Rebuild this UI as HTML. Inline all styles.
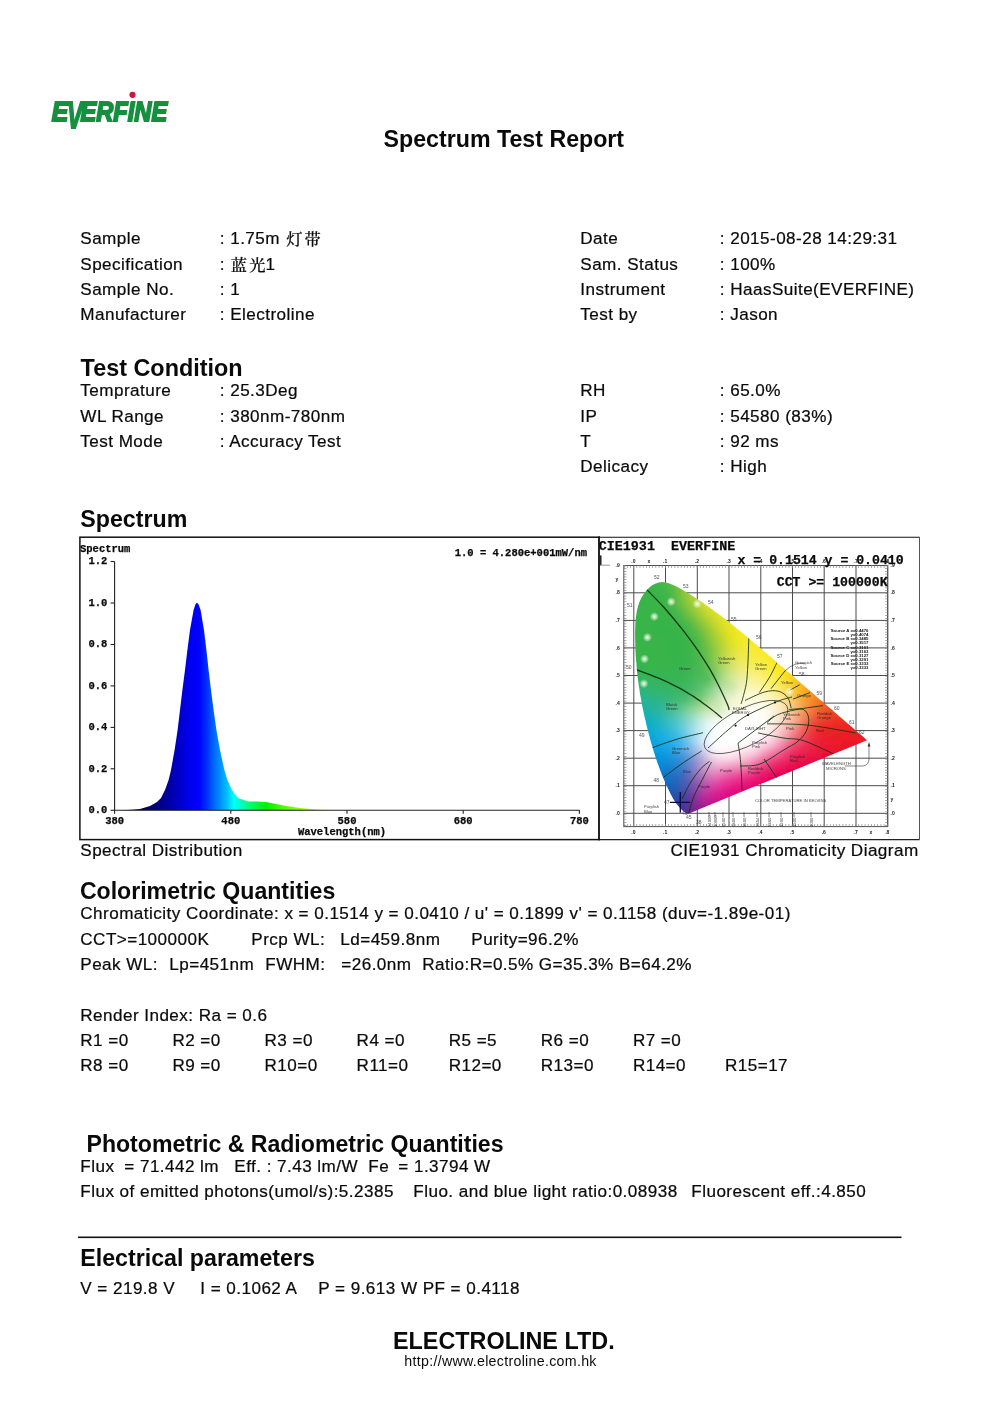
<!DOCTYPE html>
<html lang="en"><head><meta charset="utf-8"><title>Spectrum Test Report</title>
<style>
html,body{margin:0;padding:0;background:#fff}
body{width:1000px;height:1414px;overflow:hidden}
svg{display:block}
text{font-family:"Liberation Sans","Noto Sans CJK SC",sans-serif;fill:#0a0a0a;white-space:pre}
.r{font-size:17.1px;letter-spacing:0.45px;stroke:#0a0a0a;stroke-width:0.22px}
.h{font-size:23.2px;font-weight:bold;letter-spacing:0px}
.cj{font-family:"Noto Serif CJK SC","Noto Sans CJK SC",serif;font-size:16.2px;font-weight:500;letter-spacing:2.2px}
.u{font-size:14.2px;letter-spacing:0.3px}
.m{font-family:"Liberation Mono",monospace;font-weight:bold;font-size:10.5px;stroke:#0a0a0a;stroke-width:0.25px}
.c{font-family:"Liberation Mono",monospace;font-weight:bold;font-size:13.2px;stroke:#0a0a0a;stroke-width:0.25px}
.t{font-size:4.2px;fill:#222;fill-opacity:0.85}
.ta{font-size:5px;font-weight:bold;fill:#222}
.tw{font-size:5px;fill:#334;fill-opacity:0.85}
.ts{font-size:4.3px;font-weight:bold;fill:#111}
.lg{font-size:28px;font-weight:bold;font-style:italic;fill:#14903f;letter-spacing:0}
</style></head>
<body><svg width="1000" height="1414" viewBox="0 0 1000 1414" xml:space="preserve">
<text x="51.7" y="121.3" class="lg" textLength="16.5" lengthAdjust="spacingAndGlyphs" stroke="#14903f" stroke-width="1.9" stroke-linejoin="miter">E</text>
<text x="67" y="127.8" class="lg" style="font-size:36.7px" textLength="15.5" lengthAdjust="spacingAndGlyphs" stroke="#14903f" stroke-width="1.9" stroke-linejoin="miter">V</text>
<text x="80.5" y="121.3" class="lg" textLength="86.7" lengthAdjust="spacingAndGlyphs" stroke="#14903f" stroke-width="1.9" stroke-linejoin="miter">ERFINE</text>
<circle cx="132.5" cy="94.8" r="3.1" fill="#d4143c"/>
<text x="383.6" y="147" class="h">Spectrum Test Report</text>
<text x="80.3" y="244" class="r">Sample</text>
<text x="219.8" y="244" class="r">: 1.75m <tspan class="cj" dx="1.0" dy="0.9">灯带</tspan></text>
<text x="80.3" y="270" class="r">Specification</text>
<text x="219.8" y="270" class="r">: <tspan class="cj" dx="0.6" dy="0.9">蓝光</tspan><tspan dy="-0.9" dx="-2">1</tspan></text>
<text x="80.3" y="295" class="r">Sample No.</text>
<text x="219.8" y="295" class="r">: 1</text>
<text x="80.3" y="320" class="r">Manufacturer</text>
<text x="219.8" y="320" class="r">: Electroline</text>
<text x="580.3" y="244" class="r">Date</text>
<text x="719.8" y="244" class="r">: 2015-08-28 14:29:31</text>
<text x="580.3" y="270" class="r">Sam. Status</text>
<text x="719.8" y="270" class="r">: 100%</text>
<text x="580.3" y="295" class="r">Instrument</text>
<text x="719.8" y="295" class="r">: HaasSuite(EVERFINE)</text>
<text x="580.3" y="320" class="r">Test by</text>
<text x="719.8" y="320" class="r">: Jason</text>
<text x="80.6" y="376" class="h" style="font-size:23.4px">Test Condition</text>
<text x="80.3" y="396" class="r">Temprature</text>
<text x="219.8" y="396" class="r">: 25.3Deg</text>
<text x="80.3" y="422" class="r">WL Range</text>
<text x="219.8" y="422" class="r">: 380nm-780nm</text>
<text x="80.3" y="447" class="r">Test Mode</text>
<text x="219.8" y="447" class="r">: Accuracy Test</text>
<text x="580.3" y="396" class="r">RH</text>
<text x="719.8" y="396" class="r">: 65.0%</text>
<text x="580.3" y="422" class="r">IP</text>
<text x="719.8" y="422" class="r">: 54580 (83%)</text>
<text x="580.3" y="447" class="r">T</text>
<text x="719.8" y="447" class="r">: 92 ms</text>
<text x="580.3" y="472" class="r">Delicacy</text>
<text x="719.8" y="472" class="r">: High</text>
<text x="80.3" y="527" class="h">Spectrum</text>
<text x="80.3" y="856" class="r">Spectral Distribution</text>
<text x="918.6" y="856" class="r" text-anchor="end">CIE1931 Chromaticity Diagram</text>
<text x="79.9" y="899" class="h" style="font-size:23.1px">Colorimetric Quantities</text>
<text x="80.3" y="919" class="r">Chromaticity Coordinate: x = 0.1514 y = 0.0410 / u' = 0.1899 v' = 0.1158 (duv=-1.89e-01)</text>
<text x="80.3" y="945" class="r">CCT&gt;=100000K</text>
<text x="251.3" y="945" class="r">Prcp WL:</text>
<text x="340.3" y="945" class="r">Ld=459.8nm</text>
<text x="471.3" y="945" class="r">Purity=96.2%</text>
<text x="80.3" y="970" class="r">Peak WL:</text>
<text x="169.3" y="970" class="r">Lp=451nm</text>
<text x="265.3" y="970" class="r">FWHM:</text>
<text x="341.3" y="970" class="r">=26.0nm</text>
<text x="422.3" y="970" class="r">Ratio:R=0.5% G=35.3% B=64.2%</text>
<text x="80.3" y="1021" class="r">Render Index: Ra = 0.6</text>
<text x="80.3" y="1046" class="r">R1 =0</text>
<text x="172.4" y="1046" class="r">R2 =0</text>
<text x="264.5" y="1046" class="r">R3 =0</text>
<text x="356.6" y="1046" class="r">R4 =0</text>
<text x="448.7" y="1046" class="r">R5 =5</text>
<text x="540.8" y="1046" class="r">R6 =0</text>
<text x="632.9" y="1046" class="r">R7 =0</text>
<text x="80.3" y="1071" class="r">R8 =0</text>
<text x="172.4" y="1071" class="r">R9 =0</text>
<text x="264.5" y="1071" class="r">R10=0</text>
<text x="356.6" y="1071" class="r">R11=0</text>
<text x="448.7" y="1071" class="r">R12=0</text>
<text x="540.8" y="1071" class="r">R13=0</text>
<text x="632.9" y="1071" class="r">R14=0</text>
<text x="725.0" y="1071" class="r">R15=17</text>
<text x="86.5" y="1152" class="h" style="font-size:23.1px">Photometric &amp; Radiometric Quantities</text>
<text x="80.3" y="1172" class="r">Flux</text>
<text x="124.3" y="1172" class="r">= 71.442 lm</text>
<text x="234.3" y="1172" class="r">Eff. : 7.43 lm/W</text>
<text x="368.3" y="1172" class="r">Fe</text>
<text x="398.3" y="1172" class="r">= 1.3794 W</text>
<text x="80.3" y="1197" class="r">Flux of emitted photons(umol/s):5.2385</text>
<text x="413.3" y="1197" class="r">Fluo. and blue light ratio:0.08938</text>
<text x="691.3" y="1197" class="r">Fluorescent eff.:4.850</text>
<rect x="78" y="1236.5" width="823.5" height="1.6" fill="#111"/>
<text x="80.3" y="1266" class="h">Electrical parameters</text>
<text x="80.3" y="1294" class="r">V = 219.8 V</text>
<text x="200.3" y="1294" class="r">I = 0.1062 A</text>
<text x="318.3" y="1294" class="r">P = 9.613 W PF = 0.4118</text>
<text x="392.9" y="1349" class="h" style="font-size:23.4px">ELECTROLINE LTD.</text>
<text x="404.3" y="1366" class="u">http://www.electroline.com.hk</text>
<rect x="79.9" y="537.2" width="519.1" height="302.4" fill="#fff" stroke="#111" stroke-width="1.5"/>
<defs><linearGradient id="sg" gradientUnits="userSpaceOnUse" x1="120" y1="0" x2="330" y2="0">
<stop offset="0.0000" stop-color="#000020"/><stop offset="0.1429" stop-color="#000068"/><stop offset="0.2381" stop-color="#0000a8"/><stop offset="0.3333" stop-color="#0000f0"/><stop offset="0.3762" stop-color="#0000ff"/><stop offset="0.4143" stop-color="#0030ff"/><stop offset="0.4476" stop-color="#0068ff"/><stop offset="0.5048" stop-color="#00b8ff"/><stop offset="0.5429" stop-color="#00ffff"/><stop offset="0.5762" stop-color="#00ffc0"/><stop offset="0.6190" stop-color="#00ff70"/><stop offset="0.6952" stop-color="#00f000"/><stop offset="0.7857" stop-color="#50ff00"/><stop offset="0.8571" stop-color="#90ff00"/><stop offset="0.9333" stop-color="#d0ff00"/><stop offset="1.0000" stop-color="#ffff00"/></linearGradient></defs>
<path d="M120.0,810.3 L132.0,809.8 L140.0,809.0 L150.0,806.0 L157.0,802.0 L161.0,798.0 L165.0,790.0 L168.6,780.0 L171.0,770.0 L174.6,750.0 L177.6,730.0 L180.0,710.0 L182.4,690.0 L185.0,670.0 L187.4,650.0 L190.0,630.0 L193.6,610.0 L195.4,604.5 L197.0,602.6 L198.6,604.5 L200.6,610.0 L204.0,630.0 L206.4,650.0 L208.6,670.0 L211.0,690.0 L213.6,710.0 L216.4,730.0 L220.0,750.0 L224.4,770.0 L227.4,780.0 L232.0,790.0 L238.0,798.0 L248.0,801.5 L257.0,801.5 L266.0,802.0 L276.0,804.0 L286.0,806.0 L300.0,808.0 L316.0,809.6 L330.0,810.3 Z" fill="url(#sg)"/>
<path d="M114.6,561.5 V810.3 H579.6" fill="none" stroke="#222" stroke-width="1.1"/>
<path d="M110.6,810.3 H114.6" stroke="#222" stroke-width="1.1"/>
<text x="107.39999999999999" y="813.1" class="m" text-anchor="end">0.0</text>
<path d="M110.6,768.8 H114.6" stroke="#222" stroke-width="1.1"/>
<text x="107.39999999999999" y="771.6" class="m" text-anchor="end">0.2</text>
<path d="M110.6,727.4 H114.6" stroke="#222" stroke-width="1.1"/>
<text x="107.39999999999999" y="730.2" class="m" text-anchor="end">0.4</text>
<path d="M110.6,685.9 H114.6" stroke="#222" stroke-width="1.1"/>
<text x="107.39999999999999" y="688.7" class="m" text-anchor="end">0.6</text>
<path d="M110.6,644.5 H114.6" stroke="#222" stroke-width="1.1"/>
<text x="107.39999999999999" y="647.3" class="m" text-anchor="end">0.8</text>
<path d="M110.6,603.0 H114.6" stroke="#222" stroke-width="1.1"/>
<text x="107.39999999999999" y="605.8" class="m" text-anchor="end">1.0</text>
<path d="M110.6,561.5 H114.6" stroke="#222" stroke-width="1.1"/>
<text x="107.39999999999999" y="564.3" class="m" text-anchor="end">1.2</text>
<path d="M114.6,810.3 v3.5" stroke="#222" stroke-width="1.1"/>
<text x="114.6" y="823.5" class="m" text-anchor="middle">380</text>
<path d="M230.8,810.3 v3.5" stroke="#222" stroke-width="1.1"/>
<text x="230.8" y="823.5" class="m" text-anchor="middle">480</text>
<path d="M347.0,810.3 v3.5" stroke="#222" stroke-width="1.1"/>
<text x="347.0" y="823.5" class="m" text-anchor="middle">580</text>
<path d="M463.2,810.3 v3.5" stroke="#222" stroke-width="1.1"/>
<text x="463.2" y="823.5" class="m" text-anchor="middle">680</text>
<path d="M579.4,810.3 v3.5" stroke="#222" stroke-width="1.1"/>
<text x="579.4" y="823.5" class="m" text-anchor="middle">780</text>
<text x="80" y="552" class="m">Spectrum</text>
<text x="587" y="556" class="m" text-anchor="end">1.0 = 4.280e+001mW/nm</text>
<text x="342" y="834.5" class="m" text-anchor="middle">Wavelength(nm)</text>
<rect x="599.3" y="537" width="320.3" height="302.5" fill="#fff"/>
<defs><clipPath id="hs"><path d="M687.8,813.9 L684.5,812.1 L681.6,809.8 L679.1,807.1 L676.8,804.2 L674.7,801.2 L672.8,798.0 L671.0,794.8 L669.4,791.5 L667.7,788.1 L666.2,784.7 L664.7,781.3 L663.2,777.9 L661.8,774.4 L660.5,771.0 L659.2,767.5 L657.9,764.0 L656.7,760.4 L655.5,756.9 L654.4,753.4 L653.2,749.8 L652.2,746.3 L651.1,742.7 L650.1,739.1 L649.2,735.5 L648.2,731.9 L647.3,728.3 L646.4,724.7 L645.6,721.1 L644.7,717.5 L643.9,713.9 L643.2,710.3 L642.4,706.7 L641.7,703.1 L641.1,699.5 L640.4,695.8 L639.8,692.2 L639.3,688.5 L638.7,684.9 L638.2,681.2 L637.8,677.6 L637.3,673.9 L636.9,670.2 L636.6,666.5 L636.3,662.8 L636.0,659.1 L635.7,655.4 L635.5,651.6 L635.4,647.9 L635.3,644.1 L635.2,640.3 L635.1,636.6 L635.1,632.8 L635.2,629.0 L635.3,625.2 L635.5,621.4 L635.9,617.6 L636.4,613.9 L637.0,610.3 L637.9,606.7 L639.0,603.3 L640.3,599.9 L642.0,596.7 L643.9,593.7 L646.2,590.8 L648.8,588.0 L651.8,585.6 L655.1,583.7 L658.6,582.4 L662.2,582.1 L665.9,582.5 L669.6,583.5 L673.1,584.9 L676.6,586.5 L679.9,588.3 L683.1,590.2 L686.3,592.1 L689.5,594.0 L692.6,596.0 L695.8,598.0 L698.8,600.0 L701.9,602.1 L705.0,604.2 L708.0,606.3 L711.0,608.5 L714.0,610.7 L717.0,612.9 L720.0,615.1 L722.9,617.3 L725.8,619.6 L728.8,621.9 L731.7,624.2 L734.6,626.5 L737.4,628.9 L740.3,631.2 L743.2,633.6 L746.0,636.0 L748.9,638.4 L751.7,640.8 L754.6,643.2 L757.4,645.6 L760.2,648.0 L763.0,650.4 L765.9,652.8 L768.7,655.2 L771.5,657.6 L774.3,660.1 L777.1,662.5 L779.9,664.9 L782.8,667.3 L785.6,669.8 L788.4,672.2 L791.2,674.6 L794.0,677.0 L796.8,679.5 L799.6,681.9 L802.4,684.3 L805.2,686.8 L808.0,689.2 L810.8,691.6 L813.6,694.0 L816.4,696.5 L819.2,698.9 L822.1,701.3 L824.9,703.8 L827.7,706.2 L830.5,708.6 L833.3,711.0 L836.1,713.5 L838.9,715.9 L841.7,718.3 L844.5,720.8 L847.3,723.2 L850.1,725.6 L853.0,728.0 L855.8,730.5 L858.6,732.9 L861.4,735.3 L864.2,737.8 L867.0,740.2 Z"/></clipPath>
<filter id="vb" x="-5%" y="-5%" width="110%" height="110%"><feGaussianBlur stdDeviation="0 1.6"/></filter>
<linearGradient id="r0" gradientUnits="userSpaceOnUse" x1="652" x2="673" y1="0" y2="0"><stop offset="0.000" stop-color="#3fb747"/><stop offset="0.333" stop-color="#45b846"/><stop offset="0.667" stop-color="#53bb43"/><stop offset="1.000" stop-color="#65c03f"/></linearGradient>
<linearGradient id="r1" gradientUnits="userSpaceOnUse" x1="646" x2="682" y1="0" y2="0"><stop offset="0.000" stop-color="#3ab648"/><stop offset="0.250" stop-color="#3cb648"/><stop offset="0.500" stop-color="#49b846"/><stop offset="0.750" stop-color="#61be41"/><stop offset="1.000" stop-color="#81c63a"/></linearGradient>
<linearGradient id="r2" gradientUnits="userSpaceOnUse" x1="643" x2="689" y1="0" y2="0"><stop offset="0.000" stop-color="#38b549"/><stop offset="0.167" stop-color="#39b549"/><stop offset="0.333" stop-color="#3bb549"/><stop offset="0.500" stop-color="#48b847"/><stop offset="0.667" stop-color="#5cbd43"/><stop offset="0.833" stop-color="#7cc53d"/><stop offset="1.000" stop-color="#9bcd35"/></linearGradient>
<linearGradient id="r3" gradientUnits="userSpaceOnUse" x1="640" x2="695" y1="0" y2="0"><stop offset="0.000" stop-color="#37b54a"/><stop offset="0.143" stop-color="#38b44a"/><stop offset="0.286" stop-color="#38b44a"/><stop offset="0.429" stop-color="#3fb649"/><stop offset="0.571" stop-color="#50b946"/><stop offset="0.714" stop-color="#72c240"/><stop offset="0.857" stop-color="#94cb38"/><stop offset="1.000" stop-color="#b3d430"/></linearGradient>
<linearGradient id="r4" gradientUnits="userSpaceOnUse" x1="638" x2="701" y1="0" y2="0"><stop offset="0.000" stop-color="#36b44a"/><stop offset="0.125" stop-color="#37b44a"/><stop offset="0.250" stop-color="#37b44a"/><stop offset="0.375" stop-color="#3bb549"/><stop offset="0.500" stop-color="#46b748"/><stop offset="0.625" stop-color="#67be43"/><stop offset="0.750" stop-color="#8cc83c"/><stop offset="0.875" stop-color="#acd133"/><stop offset="1.000" stop-color="#cadb2b"/></linearGradient>
<linearGradient id="r5" gradientUnits="userSpaceOnUse" x1="636" x2="707" y1="0" y2="0"><stop offset="0.000" stop-color="#36b44a"/><stop offset="0.111" stop-color="#37b44a"/><stop offset="0.222" stop-color="#37b44a"/><stop offset="0.333" stop-color="#39b44a"/><stop offset="0.444" stop-color="#41b649"/><stop offset="0.556" stop-color="#5cbb45"/><stop offset="0.667" stop-color="#82c43f"/><stop offset="0.778" stop-color="#a2ce37"/><stop offset="0.889" stop-color="#c4d92e"/><stop offset="1.000" stop-color="#dde128"/></linearGradient>
<linearGradient id="r6" gradientUnits="userSpaceOnUse" x1="635" x2="713" y1="0" y2="0"><stop offset="0.000" stop-color="#35b44a"/><stop offset="0.100" stop-color="#36b44a"/><stop offset="0.200" stop-color="#37b44a"/><stop offset="0.300" stop-color="#38b44a"/><stop offset="0.400" stop-color="#3fb549"/><stop offset="0.500" stop-color="#54b947"/><stop offset="0.600" stop-color="#72c042"/><stop offset="0.700" stop-color="#94ca3b"/><stop offset="0.800" stop-color="#b8d432"/><stop offset="0.900" stop-color="#d6df2a"/><stop offset="1.000" stop-color="#e8e425"/></linearGradient>
<linearGradient id="r7" gradientUnits="userSpaceOnUse" x1="634" x2="718" y1="0" y2="0"><stop offset="0.000" stop-color="#36b44a"/><stop offset="0.100" stop-color="#37b44a"/><stop offset="0.200" stop-color="#37b44a"/><stop offset="0.300" stop-color="#38b44a"/><stop offset="0.400" stop-color="#3fb549"/><stop offset="0.500" stop-color="#54b946"/><stop offset="0.600" stop-color="#74c141"/><stop offset="0.700" stop-color="#98cb3a"/><stop offset="0.800" stop-color="#bfd730"/><stop offset="0.900" stop-color="#dce029"/><stop offset="1.000" stop-color="#eae525"/></linearGradient>
<linearGradient id="r8" gradientUnits="userSpaceOnUse" x1="634" x2="724" y1="0" y2="0"><stop offset="0.000" stop-color="#36b44a"/><stop offset="0.091" stop-color="#37b44a"/><stop offset="0.182" stop-color="#37b44a"/><stop offset="0.273" stop-color="#38b44a"/><stop offset="0.364" stop-color="#3bb449"/><stop offset="0.455" stop-color="#46b648"/><stop offset="0.545" stop-color="#64bd44"/><stop offset="0.636" stop-color="#88c63e"/><stop offset="0.727" stop-color="#acd035"/><stop offset="0.818" stop-color="#cbdb2c"/><stop offset="0.909" stop-color="#e0e227"/><stop offset="1.000" stop-color="#efe724"/></linearGradient>
<linearGradient id="r9" gradientUnits="userSpaceOnUse" x1="633" x2="729" y1="0" y2="0"><stop offset="0.000" stop-color="#36b44b"/><stop offset="0.083" stop-color="#37b44a"/><stop offset="0.167" stop-color="#37b44a"/><stop offset="0.250" stop-color="#37b44a"/><stop offset="0.333" stop-color="#39b44a"/><stop offset="0.417" stop-color="#3fb549"/><stop offset="0.500" stop-color="#51b946"/><stop offset="0.583" stop-color="#72c042"/><stop offset="0.667" stop-color="#96ca3a"/><stop offset="0.750" stop-color="#b8d431"/><stop offset="0.833" stop-color="#d2dd2a"/><stop offset="0.917" stop-color="#e5e426"/><stop offset="1.000" stop-color="#f2e822"/></linearGradient>
<linearGradient id="r10" gradientUnits="userSpaceOnUse" x1="633" x2="734" y1="0" y2="0"><stop offset="0.000" stop-color="#35b44b"/><stop offset="0.077" stop-color="#37b44a"/><stop offset="0.154" stop-color="#37b449"/><stop offset="0.231" stop-color="#37b449"/><stop offset="0.308" stop-color="#37b44a"/><stop offset="0.385" stop-color="#3ab449"/><stop offset="0.462" stop-color="#44b648"/><stop offset="0.538" stop-color="#5cbb45"/><stop offset="0.615" stop-color="#7ec33f"/><stop offset="0.692" stop-color="#9ecc38"/><stop offset="0.769" stop-color="#bed62f"/><stop offset="0.846" stop-color="#d8df29"/><stop offset="0.923" stop-color="#eae524"/><stop offset="1.000" stop-color="#f5e920"/></linearGradient>
<linearGradient id="r11" gradientUnits="userSpaceOnUse" x1="633" x2="739" y1="0" y2="0"><stop offset="0.000" stop-color="#35b44b"/><stop offset="0.077" stop-color="#37b44a"/><stop offset="0.154" stop-color="#37b449"/><stop offset="0.231" stop-color="#36b449"/><stop offset="0.308" stop-color="#36b44a"/><stop offset="0.385" stop-color="#39b449"/><stop offset="0.462" stop-color="#42b648"/><stop offset="0.538" stop-color="#5abb45"/><stop offset="0.615" stop-color="#7ec33f"/><stop offset="0.692" stop-color="#a2cd37"/><stop offset="0.769" stop-color="#c3d82e"/><stop offset="0.846" stop-color="#dce027"/><stop offset="0.923" stop-color="#ece622"/><stop offset="1.000" stop-color="#f7e91e"/></linearGradient>
<linearGradient id="r12" gradientUnits="userSpaceOnUse" x1="633" x2="744" y1="0" y2="0"><stop offset="0.000" stop-color="#35b44b"/><stop offset="0.071" stop-color="#36b44a"/><stop offset="0.143" stop-color="#37b449"/><stop offset="0.214" stop-color="#36b449"/><stop offset="0.286" stop-color="#36b44a"/><stop offset="0.357" stop-color="#37b44a"/><stop offset="0.429" stop-color="#3bb449"/><stop offset="0.500" stop-color="#48b748"/><stop offset="0.571" stop-color="#68be43"/><stop offset="0.643" stop-color="#8dc73d"/><stop offset="0.714" stop-color="#b1d233"/><stop offset="0.786" stop-color="#d0dc29"/><stop offset="0.857" stop-color="#e4e323"/><stop offset="0.929" stop-color="#f2e820"/><stop offset="1.000" stop-color="#f9ea1c"/></linearGradient>
<linearGradient id="r13" gradientUnits="userSpaceOnUse" x1="633" x2="749" y1="0" y2="0"><stop offset="0.000" stop-color="#35b44b"/><stop offset="0.071" stop-color="#37b449"/><stop offset="0.143" stop-color="#37b449"/><stop offset="0.214" stop-color="#36b449"/><stop offset="0.286" stop-color="#36b44a"/><stop offset="0.357" stop-color="#36b44a"/><stop offset="0.429" stop-color="#3ab449"/><stop offset="0.500" stop-color="#4bb847"/><stop offset="0.571" stop-color="#69be43"/><stop offset="0.643" stop-color="#90c83b"/><stop offset="0.714" stop-color="#b5d331"/><stop offset="0.786" stop-color="#d6de27"/><stop offset="0.857" stop-color="#e9e521"/><stop offset="0.929" stop-color="#f4e91f"/><stop offset="1.000" stop-color="#faea1d"/></linearGradient>
<linearGradient id="r14" gradientUnits="userSpaceOnUse" x1="633" x2="753" y1="0" y2="0"><stop offset="0.000" stop-color="#36b44b"/><stop offset="0.067" stop-color="#37b449"/><stop offset="0.133" stop-color="#37b449"/><stop offset="0.200" stop-color="#37b449"/><stop offset="0.267" stop-color="#36b449"/><stop offset="0.333" stop-color="#35b44a"/><stop offset="0.400" stop-color="#38b44a"/><stop offset="0.467" stop-color="#41b649"/><stop offset="0.533" stop-color="#56ba46"/><stop offset="0.600" stop-color="#7bc240"/><stop offset="0.667" stop-color="#a3cd37"/><stop offset="0.733" stop-color="#c5d82c"/><stop offset="0.800" stop-color="#dfe223"/><stop offset="0.867" stop-color="#efe721"/><stop offset="0.933" stop-color="#f7e921"/><stop offset="1.000" stop-color="#fae920"/></linearGradient>
<linearGradient id="r15" gradientUnits="userSpaceOnUse" x1="633" x2="758" y1="0" y2="0"><stop offset="0.000" stop-color="#36b44b"/><stop offset="0.062" stop-color="#38b449"/><stop offset="0.125" stop-color="#38b448"/><stop offset="0.188" stop-color="#37b449"/><stop offset="0.250" stop-color="#37b449"/><stop offset="0.312" stop-color="#35b449"/><stop offset="0.375" stop-color="#36b44a"/><stop offset="0.438" stop-color="#3cb549"/><stop offset="0.500" stop-color="#48b748"/><stop offset="0.562" stop-color="#69be44"/><stop offset="0.625" stop-color="#92c83c"/><stop offset="0.688" stop-color="#b2d233"/><stop offset="0.750" stop-color="#d3dd28"/><stop offset="0.812" stop-color="#e8e525"/><stop offset="0.875" stop-color="#f3e925"/><stop offset="0.938" stop-color="#f7ea26"/><stop offset="1.000" stop-color="#fae922"/></linearGradient>
<linearGradient id="r16" gradientUnits="userSpaceOnUse" x1="633" x2="763" y1="0" y2="0"><stop offset="0.000" stop-color="#36b44b"/><stop offset="0.062" stop-color="#38b449"/><stop offset="0.125" stop-color="#38b448"/><stop offset="0.188" stop-color="#38b448"/><stop offset="0.250" stop-color="#37b449"/><stop offset="0.312" stop-color="#35b449"/><stop offset="0.375" stop-color="#36b44a"/><stop offset="0.438" stop-color="#3cb54a"/><stop offset="0.500" stop-color="#4eb848"/><stop offset="0.562" stop-color="#72c043"/><stop offset="0.625" stop-color="#9acb3c"/><stop offset="0.688" stop-color="#bed633"/><stop offset="0.750" stop-color="#dbe02c"/><stop offset="0.812" stop-color="#ece72b"/><stop offset="0.875" stop-color="#f4ea2d"/><stop offset="0.938" stop-color="#f7ea2b"/><stop offset="1.000" stop-color="#fbe922"/></linearGradient>
<linearGradient id="r17" gradientUnits="userSpaceOnUse" x1="633" x2="767" y1="0" y2="0"><stop offset="0.000" stop-color="#36b44c"/><stop offset="0.059" stop-color="#38b449"/><stop offset="0.118" stop-color="#38b448"/><stop offset="0.176" stop-color="#38b448"/><stop offset="0.235" stop-color="#37b449"/><stop offset="0.294" stop-color="#35b449"/><stop offset="0.353" stop-color="#36b44a"/><stop offset="0.412" stop-color="#3bb44a"/><stop offset="0.471" stop-color="#48b749"/><stop offset="0.529" stop-color="#60bc47"/><stop offset="0.588" stop-color="#86c643"/><stop offset="0.647" stop-color="#acd13c"/><stop offset="0.706" stop-color="#cedc36"/><stop offset="0.765" stop-color="#e5e433"/><stop offset="0.824" stop-color="#f1e934"/><stop offset="0.882" stop-color="#f6ea33"/><stop offset="0.941" stop-color="#f9ea2b"/><stop offset="1.000" stop-color="#fbe821"/></linearGradient>
<linearGradient id="r18" gradientUnits="userSpaceOnUse" x1="633" x2="772" y1="0" y2="0"><stop offset="0.000" stop-color="#35b44c"/><stop offset="0.059" stop-color="#38b449"/><stop offset="0.118" stop-color="#38b548"/><stop offset="0.176" stop-color="#38b448"/><stop offset="0.235" stop-color="#37b449"/><stop offset="0.294" stop-color="#35b449"/><stop offset="0.353" stop-color="#36b44a"/><stop offset="0.412" stop-color="#3db54a"/><stop offset="0.471" stop-color="#4cb84a"/><stop offset="0.529" stop-color="#69be49"/><stop offset="0.588" stop-color="#90c945"/><stop offset="0.647" stop-color="#b7d541"/><stop offset="0.706" stop-color="#d9e03d"/><stop offset="0.765" stop-color="#ebe73d"/><stop offset="0.824" stop-color="#f4ea3b"/><stop offset="0.882" stop-color="#f7eb36"/><stop offset="0.941" stop-color="#f9ea2b"/><stop offset="1.000" stop-color="#fce61f"/></linearGradient>
<linearGradient id="r19" gradientUnits="userSpaceOnUse" x1="633" x2="777" y1="0" y2="0"><stop offset="0.000" stop-color="#35b44d"/><stop offset="0.056" stop-color="#38b449"/><stop offset="0.111" stop-color="#38b549"/><stop offset="0.167" stop-color="#38b449"/><stop offset="0.222" stop-color="#37b449"/><stop offset="0.278" stop-color="#36b44a"/><stop offset="0.333" stop-color="#36b44a"/><stop offset="0.389" stop-color="#3bb54b"/><stop offset="0.444" stop-color="#47b74c"/><stop offset="0.500" stop-color="#60bd4c"/><stop offset="0.556" stop-color="#87c74a"/><stop offset="0.611" stop-color="#afd349"/><stop offset="0.667" stop-color="#d2de48"/><stop offset="0.722" stop-color="#e7e647"/><stop offset="0.778" stop-color="#f3ea45"/><stop offset="0.833" stop-color="#f7eb3f"/><stop offset="0.889" stop-color="#f8eb34"/><stop offset="0.944" stop-color="#fae927"/><stop offset="1.000" stop-color="#fce41b"/></linearGradient>
<linearGradient id="r20" gradientUnits="userSpaceOnUse" x1="633" x2="781" y1="0" y2="0"><stop offset="0.000" stop-color="#35b44e"/><stop offset="0.056" stop-color="#38b44b"/><stop offset="0.111" stop-color="#38b54a"/><stop offset="0.167" stop-color="#38b44a"/><stop offset="0.222" stop-color="#37b44a"/><stop offset="0.278" stop-color="#36b44b"/><stop offset="0.333" stop-color="#37b44b"/><stop offset="0.389" stop-color="#3cb54c"/><stop offset="0.444" stop-color="#48b74e"/><stop offset="0.500" stop-color="#65be4f"/><stop offset="0.556" stop-color="#8ec950"/><stop offset="0.611" stop-color="#b6d652"/><stop offset="0.667" stop-color="#d7e053"/><stop offset="0.722" stop-color="#ebe753"/><stop offset="0.778" stop-color="#f5eb4e"/><stop offset="0.833" stop-color="#f8ec43"/><stop offset="0.889" stop-color="#f8ec35"/><stop offset="0.944" stop-color="#fbe827"/><stop offset="1.000" stop-color="#fde119"/></linearGradient>
<linearGradient id="r21" gradientUnits="userSpaceOnUse" x1="634" x2="786" y1="0" y2="0"><stop offset="0.000" stop-color="#35b450"/><stop offset="0.053" stop-color="#37b54d"/><stop offset="0.105" stop-color="#38b54c"/><stop offset="0.158" stop-color="#38b44b"/><stop offset="0.211" stop-color="#37b44b"/><stop offset="0.263" stop-color="#36b44c"/><stop offset="0.316" stop-color="#37b44d"/><stop offset="0.368" stop-color="#3db54e"/><stop offset="0.421" stop-color="#47b750"/><stop offset="0.474" stop-color="#5ebd51"/><stop offset="0.526" stop-color="#85c856"/><stop offset="0.579" stop-color="#aed45c"/><stop offset="0.632" stop-color="#d1e060"/><stop offset="0.684" stop-color="#e8e762"/><stop offset="0.737" stop-color="#f3eb5d"/><stop offset="0.789" stop-color="#f7ed50"/><stop offset="0.842" stop-color="#f8ed3f"/><stop offset="0.895" stop-color="#faea30"/><stop offset="0.947" stop-color="#fbe522"/><stop offset="1.000" stop-color="#fddc16"/></linearGradient>
<linearGradient id="r22" gradientUnits="userSpaceOnUse" x1="634" x2="791" y1="0" y2="0"><stop offset="0.000" stop-color="#34b453"/><stop offset="0.050" stop-color="#36b450"/><stop offset="0.100" stop-color="#37b54e"/><stop offset="0.150" stop-color="#37b54e"/><stop offset="0.200" stop-color="#37b44d"/><stop offset="0.250" stop-color="#36b44e"/><stop offset="0.300" stop-color="#37b44f"/><stop offset="0.350" stop-color="#3bb550"/><stop offset="0.400" stop-color="#44b752"/><stop offset="0.450" stop-color="#56bb53"/><stop offset="0.500" stop-color="#77c459"/><stop offset="0.550" stop-color="#a1d264"/><stop offset="0.600" stop-color="#c7de6e"/><stop offset="0.650" stop-color="#e2e772"/><stop offset="0.700" stop-color="#f0eb6f"/><stop offset="0.750" stop-color="#f6ee63"/><stop offset="0.800" stop-color="#f8ee4e"/><stop offset="0.850" stop-color="#faec3f"/><stop offset="0.900" stop-color="#fbe92d"/><stop offset="0.950" stop-color="#fce01e"/><stop offset="1.000" stop-color="#fdd413"/></linearGradient>
<linearGradient id="r23" gradientUnits="userSpaceOnUse" x1="634" x2="795" y1="0" y2="0"><stop offset="0.000" stop-color="#33b457"/><stop offset="0.050" stop-color="#36b553"/><stop offset="0.100" stop-color="#37b552"/><stop offset="0.150" stop-color="#37b450"/><stop offset="0.200" stop-color="#37b450"/><stop offset="0.250" stop-color="#36b450"/><stop offset="0.300" stop-color="#38b551"/><stop offset="0.350" stop-color="#3eb653"/><stop offset="0.400" stop-color="#48b855"/><stop offset="0.450" stop-color="#5abd56"/><stop offset="0.500" stop-color="#7dc760"/><stop offset="0.550" stop-color="#aad673"/><stop offset="0.600" stop-color="#cee27f"/><stop offset="0.650" stop-color="#e6e982"/><stop offset="0.700" stop-color="#f3ee7d"/><stop offset="0.750" stop-color="#f8ef6c"/><stop offset="0.800" stop-color="#f9ee56"/><stop offset="0.850" stop-color="#faec42"/><stop offset="0.900" stop-color="#fbe72e"/><stop offset="0.950" stop-color="#fcdc1f"/><stop offset="1.000" stop-color="#fccd12"/></linearGradient>
<linearGradient id="r24" gradientUnits="userSpaceOnUse" x1="635" x2="800" y1="0" y2="0"><stop offset="0.000" stop-color="#33b45b"/><stop offset="0.048" stop-color="#35b557"/><stop offset="0.095" stop-color="#36b556"/><stop offset="0.143" stop-color="#36b554"/><stop offset="0.190" stop-color="#37b453"/><stop offset="0.238" stop-color="#37b453"/><stop offset="0.286" stop-color="#39b555"/><stop offset="0.333" stop-color="#3fb757"/><stop offset="0.381" stop-color="#48b959"/><stop offset="0.429" stop-color="#55bc58"/><stop offset="0.476" stop-color="#74c562"/><stop offset="0.524" stop-color="#a5d67c"/><stop offset="0.571" stop-color="#cae28d"/><stop offset="0.619" stop-color="#e3ea92"/><stop offset="0.667" stop-color="#f3ef8f"/><stop offset="0.714" stop-color="#f8f085"/><stop offset="0.762" stop-color="#faf070"/><stop offset="0.810" stop-color="#faee55"/><stop offset="0.857" stop-color="#fbe93d"/><stop offset="0.905" stop-color="#fbdf29"/><stop offset="0.952" stop-color="#fbd11a"/><stop offset="1.000" stop-color="#fcc111"/></linearGradient>
<linearGradient id="r25" gradientUnits="userSpaceOnUse" x1="635" x2="805" y1="0" y2="0"><stop offset="0.000" stop-color="#31b461"/><stop offset="0.048" stop-color="#34b55d"/><stop offset="0.095" stop-color="#35b55c"/><stop offset="0.143" stop-color="#36b559"/><stop offset="0.190" stop-color="#36b457"/><stop offset="0.238" stop-color="#37b457"/><stop offset="0.286" stop-color="#3ab558"/><stop offset="0.333" stop-color="#42b85b"/><stop offset="0.381" stop-color="#4dbb5f"/><stop offset="0.429" stop-color="#59bd5c"/><stop offset="0.476" stop-color="#83cb72"/><stop offset="0.524" stop-color="#b4dc8f"/><stop offset="0.571" stop-color="#d3e69b"/><stop offset="0.619" stop-color="#eaeda2"/><stop offset="0.667" stop-color="#f7f199"/><stop offset="0.714" stop-color="#faf290"/><stop offset="0.762" stop-color="#fbf173"/><stop offset="0.810" stop-color="#fbec55"/><stop offset="0.857" stop-color="#fbe53e"/><stop offset="0.905" stop-color="#fbd827"/><stop offset="0.952" stop-color="#fbc81a"/><stop offset="1.000" stop-color="#fbb411"/></linearGradient>
<linearGradient id="r26" gradientUnits="userSpaceOnUse" x1="636" x2="809" y1="0" y2="0"><stop offset="0.000" stop-color="#30b468"/><stop offset="0.045" stop-color="#33b566"/><stop offset="0.091" stop-color="#34b563"/><stop offset="0.136" stop-color="#35b55f"/><stop offset="0.182" stop-color="#36b45c"/><stop offset="0.227" stop-color="#37b55b"/><stop offset="0.273" stop-color="#3bb65d"/><stop offset="0.318" stop-color="#44b860"/><stop offset="0.364" stop-color="#50bc64"/><stop offset="0.409" stop-color="#61c168"/><stop offset="0.455" stop-color="#85cd7c"/><stop offset="0.500" stop-color="#aedb95"/><stop offset="0.545" stop-color="#c7e49e"/><stop offset="0.591" stop-color="#e3edab"/><stop offset="0.636" stop-color="#f6f2aa"/><stop offset="0.682" stop-color="#faf39f"/><stop offset="0.727" stop-color="#fbf390"/><stop offset="0.773" stop-color="#fbf070"/><stop offset="0.818" stop-color="#fbe956"/><stop offset="0.864" stop-color="#fbdd3b"/><stop offset="0.909" stop-color="#facc26"/><stop offset="0.955" stop-color="#faba1a"/><stop offset="1.000" stop-color="#faa812"/></linearGradient>
<linearGradient id="r27" gradientUnits="userSpaceOnUse" x1="636" x2="814" y1="0" y2="0"><stop offset="0.000" stop-color="#2fb472"/><stop offset="0.045" stop-color="#31b56f"/><stop offset="0.091" stop-color="#32b56b"/><stop offset="0.136" stop-color="#34b566"/><stop offset="0.182" stop-color="#36b462"/><stop offset="0.227" stop-color="#39b561"/><stop offset="0.273" stop-color="#3db662"/><stop offset="0.318" stop-color="#48ba65"/><stop offset="0.364" stop-color="#5bc06d"/><stop offset="0.409" stop-color="#76c97a"/><stop offset="0.455" stop-color="#9ed795"/><stop offset="0.500" stop-color="#bde1a4"/><stop offset="0.545" stop-color="#cfe7a9"/><stop offset="0.591" stop-color="#eef2bc"/><stop offset="0.636" stop-color="#faf5b6"/><stop offset="0.682" stop-color="#fcf5ac"/><stop offset="0.727" stop-color="#fcf394"/><stop offset="0.773" stop-color="#fcee78"/><stop offset="0.818" stop-color="#fbe55b"/><stop offset="0.864" stop-color="#fad43c"/><stop offset="0.909" stop-color="#fac026"/><stop offset="0.955" stop-color="#f9ac1b"/><stop offset="1.000" stop-color="#f89813"/></linearGradient>
<linearGradient id="r28" gradientUnits="userSpaceOnUse" x1="637" x2="818" y1="0" y2="0"><stop offset="0.000" stop-color="#2db47c"/><stop offset="0.043" stop-color="#2fb57a"/><stop offset="0.087" stop-color="#30b574"/><stop offset="0.130" stop-color="#32b56e"/><stop offset="0.174" stop-color="#36b569"/><stop offset="0.217" stop-color="#3ab666"/><stop offset="0.261" stop-color="#40b767"/><stop offset="0.304" stop-color="#4dbb69"/><stop offset="0.348" stop-color="#60c271"/><stop offset="0.391" stop-color="#80cd84"/><stop offset="0.435" stop-color="#a8dba1"/><stop offset="0.478" stop-color="#c4e5b2"/><stop offset="0.522" stop-color="#d3eab7"/><stop offset="0.565" stop-color="#edf2c7"/><stop offset="0.609" stop-color="#fbf7c9"/><stop offset="0.652" stop-color="#fdf7c2"/><stop offset="0.696" stop-color="#fdf6b1"/><stop offset="0.739" stop-color="#fcf298"/><stop offset="0.783" stop-color="#fceb7d"/><stop offset="0.826" stop-color="#fbdb59"/><stop offset="0.870" stop-color="#f9c638"/><stop offset="0.913" stop-color="#f8b025"/><stop offset="0.957" stop-color="#f89b1b"/><stop offset="1.000" stop-color="#f78a15"/></linearGradient>
<linearGradient id="r29" gradientUnits="userSpaceOnUse" x1="637" x2="823" y1="0" y2="0"><stop offset="0.000" stop-color="#29b389"/><stop offset="0.043" stop-color="#2cb586"/><stop offset="0.087" stop-color="#2eb57d"/><stop offset="0.130" stop-color="#30b578"/><stop offset="0.174" stop-color="#37b56f"/><stop offset="0.217" stop-color="#3eb76c"/><stop offset="0.261" stop-color="#46b96e"/><stop offset="0.304" stop-color="#58bf6e"/><stop offset="0.348" stop-color="#70c777"/><stop offset="0.391" stop-color="#97d591"/><stop offset="0.435" stop-color="#bbe1ad"/><stop offset="0.478" stop-color="#d5ebc0"/><stop offset="0.522" stop-color="#e7f1c9"/><stop offset="0.565" stop-color="#f8f7d2"/><stop offset="0.609" stop-color="#fdf9d3"/><stop offset="0.652" stop-color="#fdf8cc"/><stop offset="0.696" stop-color="#fdf6b8"/><stop offset="0.739" stop-color="#fcf1a2"/><stop offset="0.783" stop-color="#fbe481"/><stop offset="0.826" stop-color="#facf57"/><stop offset="0.870" stop-color="#f8b737"/><stop offset="0.913" stop-color="#f7a026"/><stop offset="0.957" stop-color="#f68c1d"/><stop offset="1.000" stop-color="#f67917"/></linearGradient>
<linearGradient id="r30" gradientUnits="userSpaceOnUse" x1="638" x2="828" y1="0" y2="0"><stop offset="0.000" stop-color="#25b396"/><stop offset="0.042" stop-color="#29b492"/><stop offset="0.083" stop-color="#2cb586"/><stop offset="0.125" stop-color="#2eb583"/><stop offset="0.167" stop-color="#3ab676"/><stop offset="0.208" stop-color="#43b973"/><stop offset="0.250" stop-color="#4dbc76"/><stop offset="0.292" stop-color="#65c373"/><stop offset="0.333" stop-color="#7ccb79"/><stop offset="0.375" stop-color="#a5d996"/><stop offset="0.417" stop-color="#c3e4af"/><stop offset="0.458" stop-color="#ddeec4"/><stop offset="0.500" stop-color="#eef4d0"/><stop offset="0.542" stop-color="#f8f7d4"/><stop offset="0.583" stop-color="#fefadb"/><stop offset="0.625" stop-color="#fefadb"/><stop offset="0.667" stop-color="#fdf8ce"/><stop offset="0.708" stop-color="#fdf4b9"/><stop offset="0.750" stop-color="#fce99c"/><stop offset="0.792" stop-color="#fad574"/><stop offset="0.833" stop-color="#f8bb4d"/><stop offset="0.875" stop-color="#f7a032"/><stop offset="0.917" stop-color="#f58b25"/><stop offset="0.958" stop-color="#f4771e"/><stop offset="1.000" stop-color="#f46818"/></linearGradient>
<linearGradient id="r31" gradientUnits="userSpaceOnUse" x1="639" x2="832" y1="0" y2="0"><stop offset="0.000" stop-color="#21b2a1"/><stop offset="0.042" stop-color="#27b496"/><stop offset="0.083" stop-color="#2bb58d"/><stop offset="0.125" stop-color="#30b68a"/><stop offset="0.167" stop-color="#43b978"/><stop offset="0.208" stop-color="#4bbd7e"/><stop offset="0.250" stop-color="#61c37e"/><stop offset="0.292" stop-color="#7ccb7d"/><stop offset="0.333" stop-color="#99d58b"/><stop offset="0.375" stop-color="#bce1a2"/><stop offset="0.417" stop-color="#cee8b6"/><stop offset="0.458" stop-color="#eaf2cd"/><stop offset="0.500" stop-color="#f6f7d7"/><stop offset="0.542" stop-color="#fdfadc"/><stop offset="0.583" stop-color="#fefce6"/><stop offset="0.625" stop-color="#fefbe3"/><stop offset="0.667" stop-color="#fdf8d5"/><stop offset="0.708" stop-color="#fcf0bf"/><stop offset="0.750" stop-color="#fbe29e"/><stop offset="0.792" stop-color="#f9cb76"/><stop offset="0.833" stop-color="#f7ae50"/><stop offset="0.875" stop-color="#f59236"/><stop offset="0.917" stop-color="#f47c28"/><stop offset="0.958" stop-color="#f36920"/><stop offset="1.000" stop-color="#f35a1a"/></linearGradient>
<linearGradient id="r32" gradientUnits="userSpaceOnUse" x1="639" x2="837" y1="0" y2="0"><stop offset="0.000" stop-color="#1cb1a7"/><stop offset="0.040" stop-color="#21b3a0"/><stop offset="0.080" stop-color="#28b497"/><stop offset="0.120" stop-color="#30b693"/><stop offset="0.160" stop-color="#44ba85"/><stop offset="0.200" stop-color="#52c08a"/><stop offset="0.240" stop-color="#6bc98e"/><stop offset="0.280" stop-color="#8bd18b"/><stop offset="0.320" stop-color="#a7db9a"/><stop offset="0.360" stop-color="#c8e5ab"/><stop offset="0.400" stop-color="#cee8b7"/><stop offset="0.440" stop-color="#e9f2cf"/><stop offset="0.480" stop-color="#f8f9de"/><stop offset="0.520" stop-color="#fdfbe4"/><stop offset="0.560" stop-color="#fefdee"/><stop offset="0.600" stop-color="#fefdef"/><stop offset="0.640" stop-color="#fefae5"/><stop offset="0.680" stop-color="#fdf2d2"/><stop offset="0.720" stop-color="#fce6b5"/><stop offset="0.760" stop-color="#fad090"/><stop offset="0.800" stop-color="#f8b267"/><stop offset="0.840" stop-color="#f59346"/><stop offset="0.880" stop-color="#f37932"/><stop offset="0.920" stop-color="#f26426"/><stop offset="0.960" stop-color="#f1551f"/><stop offset="1.000" stop-color="#f14c1a"/></linearGradient>
<linearGradient id="r33" gradientUnits="userSpaceOnUse" x1="640" x2="842" y1="0" y2="0"><stop offset="0.000" stop-color="#18b0ac"/><stop offset="0.040" stop-color="#1eb2a7"/><stop offset="0.080" stop-color="#26b5a2"/><stop offset="0.120" stop-color="#34b89c"/><stop offset="0.160" stop-color="#48be97"/><stop offset="0.200" stop-color="#5dc69d"/><stop offset="0.240" stop-color="#7ed09f"/><stop offset="0.280" stop-color="#9ed9a4"/><stop offset="0.320" stop-color="#bde3b3"/><stop offset="0.360" stop-color="#d4ebbe"/><stop offset="0.400" stop-color="#d8edc6"/><stop offset="0.440" stop-color="#f0f6dd"/><stop offset="0.480" stop-color="#fcfce9"/><stop offset="0.520" stop-color="#fefef2"/><stop offset="0.560" stop-color="#fefef8"/><stop offset="0.600" stop-color="#fefdf4"/><stop offset="0.640" stop-color="#fdf6e5"/><stop offset="0.680" stop-color="#fcebcd"/><stop offset="0.720" stop-color="#fbdaae"/><stop offset="0.760" stop-color="#f8bd86"/><stop offset="0.800" stop-color="#f69c5f"/><stop offset="0.840" stop-color="#f37e41"/><stop offset="0.880" stop-color="#f1642f"/><stop offset="0.920" stop-color="#f05126"/><stop offset="0.960" stop-color="#f04820"/><stop offset="1.000" stop-color="#f1411b"/></linearGradient>
<linearGradient id="r34" gradientUnits="userSpaceOnUse" x1="641" x2="846" y1="0" y2="0"><stop offset="0.000" stop-color="#13aeb3"/><stop offset="0.038" stop-color="#18b1b1"/><stop offset="0.077" stop-color="#21b4ae"/><stop offset="0.115" stop-color="#32b9ab"/><stop offset="0.154" stop-color="#47bfa9"/><stop offset="0.192" stop-color="#60c8ae"/><stop offset="0.231" stop-color="#82d3b3"/><stop offset="0.269" stop-color="#a6debb"/><stop offset="0.308" stop-color="#c7e8c8"/><stop offset="0.346" stop-color="#dbefd0"/><stop offset="0.385" stop-color="#e4f3d8"/><stop offset="0.423" stop-color="#f3f9e7"/><stop offset="0.462" stop-color="#fdfdf2"/><stop offset="0.500" stop-color="#fefef7"/><stop offset="0.538" stop-color="#fefefc"/><stop offset="0.577" stop-color="#fefefb"/><stop offset="0.615" stop-color="#fef8ee"/><stop offset="0.654" stop-color="#fcedd9"/><stop offset="0.692" stop-color="#fbdec0"/><stop offset="0.731" stop-color="#f9c49c"/><stop offset="0.769" stop-color="#f6a273"/><stop offset="0.808" stop-color="#f37f4f"/><stop offset="0.846" stop-color="#f16237"/><stop offset="0.885" stop-color="#ef4d2a"/><stop offset="0.923" stop-color="#ef4224"/><stop offset="0.962" stop-color="#ef3c20"/><stop offset="1.000" stop-color="#f0381b"/></linearGradient>
<linearGradient id="r35" gradientUnits="userSpaceOnUse" x1="642" x2="851" y1="0" y2="0"><stop offset="0.000" stop-color="#0fadba"/><stop offset="0.038" stop-color="#14b0bb"/><stop offset="0.077" stop-color="#21b4b9"/><stop offset="0.115" stop-color="#34bab8"/><stop offset="0.154" stop-color="#4bc2ba"/><stop offset="0.192" stop-color="#69ccbf"/><stop offset="0.231" stop-color="#8fd7c8"/><stop offset="0.269" stop-color="#b5e4d3"/><stop offset="0.308" stop-color="#d6efdf"/><stop offset="0.346" stop-color="#ebf6e7"/><stop offset="0.385" stop-color="#f4faee"/><stop offset="0.423" stop-color="#fcfef8"/><stop offset="0.462" stop-color="#fefefb"/><stop offset="0.500" stop-color="#fefefd"/><stop offset="0.538" stop-color="#fefefe"/><stop offset="0.577" stop-color="#fefcf9"/><stop offset="0.615" stop-color="#fdf3e9"/><stop offset="0.654" stop-color="#fce3d2"/><stop offset="0.692" stop-color="#faccb3"/><stop offset="0.731" stop-color="#f7ac8c"/><stop offset="0.769" stop-color="#f48762"/><stop offset="0.808" stop-color="#f16442"/><stop offset="0.846" stop-color="#ef4a2f"/><stop offset="0.885" stop-color="#ee3d27"/><stop offset="0.923" stop-color="#ee3624"/><stop offset="0.962" stop-color="#ef321f"/><stop offset="1.000" stop-color="#f0301b"/></linearGradient>
<linearGradient id="r36" gradientUnits="userSpaceOnUse" x1="643" x2="855" y1="0" y2="0"><stop offset="0.000" stop-color="#0cabc1"/><stop offset="0.038" stop-color="#12afc4"/><stop offset="0.077" stop-color="#20b4c4"/><stop offset="0.115" stop-color="#33bac5"/><stop offset="0.154" stop-color="#4cc2c8"/><stop offset="0.192" stop-color="#6dcdce"/><stop offset="0.231" stop-color="#95dad7"/><stop offset="0.269" stop-color="#c2e9e5"/><stop offset="0.308" stop-color="#e2f5ef"/><stop offset="0.346" stop-color="#f7fcf8"/><stop offset="0.385" stop-color="#fcfefb"/><stop offset="0.423" stop-color="#fefefe"/><stop offset="0.462" stop-color="#fefefe"/><stop offset="0.500" stop-color="#fefefe"/><stop offset="0.538" stop-color="#fefefe"/><stop offset="0.577" stop-color="#fef8f5"/><stop offset="0.615" stop-color="#fcebe2"/><stop offset="0.654" stop-color="#fbd6c9"/><stop offset="0.692" stop-color="#f8b9a7"/><stop offset="0.731" stop-color="#f5957e"/><stop offset="0.769" stop-color="#f1694f"/><stop offset="0.808" stop-color="#ee4935"/><stop offset="0.846" stop-color="#ed3729"/><stop offset="0.885" stop-color="#ed3025"/><stop offset="0.923" stop-color="#ed2d22"/><stop offset="0.962" stop-color="#ee2b1f"/><stop offset="1.000" stop-color="#ef2a1c"/></linearGradient>
<linearGradient id="r37" gradientUnits="userSpaceOnUse" x1="644" x2="860" y1="0" y2="0"><stop offset="0.000" stop-color="#0aaac7"/><stop offset="0.037" stop-color="#11aecc"/><stop offset="0.074" stop-color="#1fb3ce"/><stop offset="0.111" stop-color="#32b9d0"/><stop offset="0.148" stop-color="#4cc2d3"/><stop offset="0.185" stop-color="#70cdd9"/><stop offset="0.222" stop-color="#9adbe2"/><stop offset="0.259" stop-color="#c4eaed"/><stop offset="0.296" stop-color="#e5f7f7"/><stop offset="0.333" stop-color="#fafefe"/><stop offset="0.370" stop-color="#fefefe"/><stop offset="0.407" stop-color="#fefefe"/><stop offset="0.444" stop-color="#fefefe"/><stop offset="0.481" stop-color="#fefefe"/><stop offset="0.519" stop-color="#fefefe"/><stop offset="0.556" stop-color="#fef7f6"/><stop offset="0.593" stop-color="#fce8e5"/><stop offset="0.630" stop-color="#fad1cc"/><stop offset="0.667" stop-color="#f8b2aa"/><stop offset="0.704" stop-color="#f58e82"/><stop offset="0.741" stop-color="#f16657"/><stop offset="0.778" stop-color="#ee4339"/><stop offset="0.815" stop-color="#ed2f2a"/><stop offset="0.852" stop-color="#ed2a26"/><stop offset="0.889" stop-color="#ed2624"/><stop offset="0.926" stop-color="#ed2521"/><stop offset="0.963" stop-color="#ee251f"/><stop offset="1.000" stop-color="#ef251d"/></linearGradient>
<linearGradient id="r38" gradientUnits="userSpaceOnUse" x1="645" x2="865" y1="0" y2="0"><stop offset="0.000" stop-color="#08a8cd"/><stop offset="0.036" stop-color="#0facd3"/><stop offset="0.071" stop-color="#1cb1d6"/><stop offset="0.107" stop-color="#2db6d8"/><stop offset="0.143" stop-color="#46bfdc"/><stop offset="0.179" stop-color="#6ccae1"/><stop offset="0.214" stop-color="#99dae9"/><stop offset="0.250" stop-color="#c5eaf3"/><stop offset="0.286" stop-color="#e4f6fa"/><stop offset="0.321" stop-color="#fafefe"/><stop offset="0.357" stop-color="#fefefe"/><stop offset="0.393" stop-color="#fefefe"/><stop offset="0.429" stop-color="#fffefe"/><stop offset="0.464" stop-color="#fefefe"/><stop offset="0.500" stop-color="#fefdfe"/><stop offset="0.536" stop-color="#fef7f8"/><stop offset="0.571" stop-color="#fce8e9"/><stop offset="0.607" stop-color="#facfd1"/><stop offset="0.643" stop-color="#f7aeb0"/><stop offset="0.679" stop-color="#f48889"/><stop offset="0.714" stop-color="#f16260"/><stop offset="0.750" stop-color="#ee4140"/><stop offset="0.786" stop-color="#ed2c2f"/><stop offset="0.821" stop-color="#ec2528"/><stop offset="0.857" stop-color="#ed2225"/><stop offset="0.893" stop-color="#ed2123"/><stop offset="0.929" stop-color="#ed2022"/><stop offset="0.964" stop-color="#ee2120"/><stop offset="1.000" stop-color="#ef211d"/></linearGradient>
<linearGradient id="r39" gradientUnits="userSpaceOnUse" x1="646" x2="869" y1="0" y2="0"><stop offset="0.000" stop-color="#07a6d3"/><stop offset="0.036" stop-color="#0faad9"/><stop offset="0.071" stop-color="#1baedd"/><stop offset="0.107" stop-color="#2bb4df"/><stop offset="0.143" stop-color="#43bce2"/><stop offset="0.179" stop-color="#6cc8e7"/><stop offset="0.214" stop-color="#9dd9ef"/><stop offset="0.250" stop-color="#ccebf6"/><stop offset="0.286" stop-color="#edf9fd"/><stop offset="0.321" stop-color="#fdfefe"/><stop offset="0.357" stop-color="#fefefe"/><stop offset="0.393" stop-color="#fffefe"/><stop offset="0.429" stop-color="#fefefe"/><stop offset="0.464" stop-color="#fefdfe"/><stop offset="0.500" stop-color="#fef9fb"/><stop offset="0.536" stop-color="#fdedf1"/><stop offset="0.571" stop-color="#fbd8de"/><stop offset="0.607" stop-color="#f8b7c2"/><stop offset="0.643" stop-color="#f5909d"/><stop offset="0.679" stop-color="#f16976"/><stop offset="0.714" stop-color="#ef4952"/><stop offset="0.750" stop-color="#ed303a"/><stop offset="0.786" stop-color="#ec242d"/><stop offset="0.821" stop-color="#ec2029"/><stop offset="0.857" stop-color="#ec1e26"/><stop offset="0.893" stop-color="#ed1d24"/><stop offset="0.929" stop-color="#ed1d23"/><stop offset="0.964" stop-color="#ed1e21"/><stop offset="1.000" stop-color="#ef1d1d"/></linearGradient>
<linearGradient id="r40" gradientUnits="userSpaceOnUse" x1="647" x2="869" y1="0" y2="0"><stop offset="0.000" stop-color="#06a3d7"/><stop offset="0.036" stop-color="#0ea7de"/><stop offset="0.071" stop-color="#19ace2"/><stop offset="0.107" stop-color="#28b0e3"/><stop offset="0.143" stop-color="#41b7e6"/><stop offset="0.179" stop-color="#6ec4eb"/><stop offset="0.214" stop-color="#a2d6f1"/><stop offset="0.250" stop-color="#d3eaf7"/><stop offset="0.286" stop-color="#f1f9fe"/><stop offset="0.321" stop-color="#fefefe"/><stop offset="0.357" stop-color="#fffefe"/><stop offset="0.393" stop-color="#fefefe"/><stop offset="0.429" stop-color="#fefcfd"/><stop offset="0.464" stop-color="#fef9fb"/><stop offset="0.500" stop-color="#fdf1f6"/><stop offset="0.536" stop-color="#fce4ec"/><stop offset="0.571" stop-color="#facdd9"/><stop offset="0.607" stop-color="#f6a8bc"/><stop offset="0.643" stop-color="#f37e96"/><stop offset="0.679" stop-color="#f05870"/><stop offset="0.714" stop-color="#ee3d50"/><stop offset="0.750" stop-color="#ed2b3d"/><stop offset="0.786" stop-color="#ec2031"/><stop offset="0.821" stop-color="#ec1d2b"/><stop offset="0.857" stop-color="#ec1c28"/><stop offset="0.893" stop-color="#ec1b26"/><stop offset="0.929" stop-color="#ec1a24"/><stop offset="0.964" stop-color="#ed1a22"/><stop offset="1.000" stop-color="#ee1a1e"/></linearGradient>
<linearGradient id="r41" gradientUnits="userSpaceOnUse" x1="648" x2="869" y1="0" y2="0"><stop offset="0.000" stop-color="#04a1da"/><stop offset="0.036" stop-color="#0ca4e1"/><stop offset="0.071" stop-color="#17a8e4"/><stop offset="0.107" stop-color="#27ace5"/><stop offset="0.143" stop-color="#42b2e7"/><stop offset="0.179" stop-color="#70bfea"/><stop offset="0.214" stop-color="#a7d1ef"/><stop offset="0.250" stop-color="#d8e7f6"/><stop offset="0.286" stop-color="#f5f8fd"/><stop offset="0.321" stop-color="#fefefe"/><stop offset="0.357" stop-color="#fefefe"/><stop offset="0.393" stop-color="#fefcfd"/><stop offset="0.429" stop-color="#fef8fa"/><stop offset="0.464" stop-color="#fef2f6"/><stop offset="0.500" stop-color="#fce6ef"/><stop offset="0.536" stop-color="#fad2e1"/><stop offset="0.571" stop-color="#f8b7cd"/><stop offset="0.607" stop-color="#f490ae"/><stop offset="0.643" stop-color="#f16587"/><stop offset="0.679" stop-color="#ee476b"/><stop offset="0.714" stop-color="#ed3350"/><stop offset="0.750" stop-color="#ec2540"/><stop offset="0.786" stop-color="#ec1e34"/><stop offset="0.821" stop-color="#ec1b2d"/><stop offset="0.857" stop-color="#ec1b2a"/><stop offset="0.893" stop-color="#ec1827"/><stop offset="0.929" stop-color="#ec1725"/><stop offset="0.964" stop-color="#ec1723"/><stop offset="1.000" stop-color="#ed161f"/></linearGradient>
<linearGradient id="r42" gradientUnits="userSpaceOnUse" x1="649" x2="860" y1="0" y2="0"><stop offset="0.000" stop-color="#039ddb"/><stop offset="0.038" stop-color="#0ba1e1"/><stop offset="0.077" stop-color="#17a3e3"/><stop offset="0.115" stop-color="#29a7e4"/><stop offset="0.154" stop-color="#4aade5"/><stop offset="0.192" stop-color="#79b8e8"/><stop offset="0.231" stop-color="#b0cbec"/><stop offset="0.269" stop-color="#dce2f4"/><stop offset="0.308" stop-color="#f8f5fb"/><stop offset="0.346" stop-color="#fefbfd"/><stop offset="0.385" stop-color="#fefafc"/><stop offset="0.423" stop-color="#fef4f7"/><stop offset="0.462" stop-color="#fdecf2"/><stop offset="0.500" stop-color="#fce1eb"/><stop offset="0.538" stop-color="#f9cadc"/><stop offset="0.577" stop-color="#f7afca"/><stop offset="0.615" stop-color="#f48db1"/><stop offset="0.654" stop-color="#f1648d"/><stop offset="0.692" stop-color="#ee3e6a"/><stop offset="0.731" stop-color="#ec2d56"/><stop offset="0.769" stop-color="#ec2347"/><stop offset="0.808" stop-color="#ec1c39"/><stop offset="0.846" stop-color="#ec1830"/><stop offset="0.885" stop-color="#ec172c"/><stop offset="0.923" stop-color="#ec1629"/><stop offset="0.962" stop-color="#ec1326"/><stop offset="1.000" stop-color="#ec1324"/></linearGradient>
<linearGradient id="r43" gradientUnits="userSpaceOnUse" x1="650" x2="850" y1="0" y2="0"><stop offset="0.000" stop-color="#0199db"/><stop offset="0.040" stop-color="#099ce0"/><stop offset="0.080" stop-color="#159ee2"/><stop offset="0.120" stop-color="#29a0e1"/><stop offset="0.160" stop-color="#4ba4e2"/><stop offset="0.200" stop-color="#7aaee3"/><stop offset="0.240" stop-color="#aebee6"/><stop offset="0.280" stop-color="#dbd9ef"/><stop offset="0.320" stop-color="#f7eef7"/><stop offset="0.360" stop-color="#fef4f8"/><stop offset="0.400" stop-color="#fef4f7"/><stop offset="0.440" stop-color="#feeaf1"/><stop offset="0.480" stop-color="#fcdfe9"/><stop offset="0.520" stop-color="#fad2e1"/><stop offset="0.560" stop-color="#f7b2cd"/><stop offset="0.600" stop-color="#f593b8"/><stop offset="0.640" stop-color="#f273a1"/><stop offset="0.680" stop-color="#ef4e7f"/><stop offset="0.720" stop-color="#ed3062"/><stop offset="0.760" stop-color="#ec2555"/><stop offset="0.800" stop-color="#ec1e4a"/><stop offset="0.840" stop-color="#ec183c"/><stop offset="0.880" stop-color="#ec1433"/><stop offset="0.920" stop-color="#ec132e"/><stop offset="0.960" stop-color="#ec122a"/><stop offset="1.000" stop-color="#ec1027"/></linearGradient>
<linearGradient id="r44" gradientUnits="userSpaceOnUse" x1="651" x2="841" y1="0" y2="0"><stop offset="0.000" stop-color="#0095d9"/><stop offset="0.042" stop-color="#0697dd"/><stop offset="0.083" stop-color="#1299df"/><stop offset="0.125" stop-color="#2698dd"/><stop offset="0.167" stop-color="#479adc"/><stop offset="0.208" stop-color="#73a0dc"/><stop offset="0.250" stop-color="#a6adde"/><stop offset="0.292" stop-color="#d5cae7"/><stop offset="0.333" stop-color="#f3e1f0"/><stop offset="0.375" stop-color="#fce8f1"/><stop offset="0.417" stop-color="#fde9f1"/><stop offset="0.458" stop-color="#fcdbe7"/><stop offset="0.500" stop-color="#facdde"/><stop offset="0.542" stop-color="#f8bed4"/><stop offset="0.583" stop-color="#f59bbd"/><stop offset="0.625" stop-color="#f377a5"/><stop offset="0.667" stop-color="#f05c91"/><stop offset="0.708" stop-color="#ee3f77"/><stop offset="0.750" stop-color="#ec265c"/><stop offset="0.792" stop-color="#eb1d50"/><stop offset="0.833" stop-color="#eb1749"/><stop offset="0.875" stop-color="#eb133e"/><stop offset="0.917" stop-color="#eb1034"/><stop offset="0.958" stop-color="#eb0e2f"/><stop offset="1.000" stop-color="#eb0d2b"/></linearGradient>
<linearGradient id="r45" gradientUnits="userSpaceOnUse" x1="653" x2="831" y1="0" y2="0"><stop offset="0.000" stop-color="#0090d8"/><stop offset="0.045" stop-color="#0792db"/><stop offset="0.091" stop-color="#1691da"/><stop offset="0.136" stop-color="#2d8fd8"/><stop offset="0.182" stop-color="#5290d6"/><stop offset="0.227" stop-color="#8197d5"/><stop offset="0.273" stop-color="#b4a8d8"/><stop offset="0.318" stop-color="#dfc4e2"/><stop offset="0.364" stop-color="#f6d3e6"/><stop offset="0.409" stop-color="#fad6e6"/><stop offset="0.455" stop-color="#facee1"/><stop offset="0.500" stop-color="#f9bed5"/><stop offset="0.545" stop-color="#f6abc9"/><stop offset="0.591" stop-color="#f48ab3"/><stop offset="0.636" stop-color="#f26498"/><stop offset="0.682" stop-color="#ef4983"/><stop offset="0.727" stop-color="#ed3571"/><stop offset="0.773" stop-color="#ec225c"/><stop offset="0.818" stop-color="#eb164e"/><stop offset="0.864" stop-color="#eb1147"/><stop offset="0.909" stop-color="#eb0e40"/><stop offset="0.955" stop-color="#eb0b37"/><stop offset="1.000" stop-color="#eb0930"/></linearGradient>
<linearGradient id="r46" gradientUnits="userSpaceOnUse" x1="654" x2="821" y1="0" y2="0"><stop offset="0.000" stop-color="#008bd4"/><stop offset="0.048" stop-color="#078cd6"/><stop offset="0.095" stop-color="#158ad5"/><stop offset="0.143" stop-color="#2b87d2"/><stop offset="0.190" stop-color="#4f87d0"/><stop offset="0.238" stop-color="#7f8dcf"/><stop offset="0.286" stop-color="#b39dd2"/><stop offset="0.333" stop-color="#ddb3d9"/><stop offset="0.381" stop-color="#f3beda"/><stop offset="0.429" stop-color="#f6bcd7"/><stop offset="0.476" stop-color="#f6b2d0"/><stop offset="0.524" stop-color="#f6a4c6"/><stop offset="0.571" stop-color="#f493ba"/><stop offset="0.619" stop-color="#f26fa2"/><stop offset="0.667" stop-color="#f04c89"/><stop offset="0.714" stop-color="#ee3575"/><stop offset="0.762" stop-color="#ec2565"/><stop offset="0.810" stop-color="#eb1857"/><stop offset="0.857" stop-color="#ea0f4b"/><stop offset="0.905" stop-color="#ea0a44"/><stop offset="0.952" stop-color="#ea073e"/><stop offset="1.000" stop-color="#ea0637"/></linearGradient>
<linearGradient id="r47" gradientUnits="userSpaceOnUse" x1="655" x2="812" y1="0" y2="0"><stop offset="0.000" stop-color="#0185d1"/><stop offset="0.050" stop-color="#0885d1"/><stop offset="0.100" stop-color="#1782d0"/><stop offset="0.150" stop-color="#2e7ecc"/><stop offset="0.200" stop-color="#537eca"/><stop offset="0.250" stop-color="#8684c9"/><stop offset="0.300" stop-color="#b894cc"/><stop offset="0.350" stop-color="#dca3d0"/><stop offset="0.400" stop-color="#efa7ce"/><stop offset="0.450" stop-color="#f29ec7"/><stop offset="0.500" stop-color="#f292bf"/><stop offset="0.550" stop-color="#f385b4"/><stop offset="0.600" stop-color="#f173a8"/><stop offset="0.650" stop-color="#f0508f"/><stop offset="0.700" stop-color="#ee367c"/><stop offset="0.750" stop-color="#ec256c"/><stop offset="0.800" stop-color="#eb185d"/><stop offset="0.850" stop-color="#ea0e52"/><stop offset="0.900" stop-color="#ea0749"/><stop offset="0.950" stop-color="#e90442"/><stop offset="1.000" stop-color="#e9023d"/></linearGradient>
<linearGradient id="r48" gradientUnits="userSpaceOnUse" x1="657" x2="802" y1="0" y2="0"><stop offset="0.000" stop-color="#037fcd"/><stop offset="0.056" stop-color="#0e7dcc"/><stop offset="0.111" stop-color="#1e79c9"/><stop offset="0.167" stop-color="#3875c5"/><stop offset="0.222" stop-color="#6476c3"/><stop offset="0.278" stop-color="#9a7ec3"/><stop offset="0.333" stop-color="#c98cc6"/><stop offset="0.389" stop-color="#e792c5"/><stop offset="0.444" stop-color="#ee89bc"/><stop offset="0.500" stop-color="#eb78b3"/><stop offset="0.556" stop-color="#f06da8"/><stop offset="0.611" stop-color="#f05d9d"/><stop offset="0.667" stop-color="#ee468c"/><stop offset="0.722" stop-color="#ed2875"/><stop offset="0.778" stop-color="#ec1a68"/><stop offset="0.833" stop-color="#ea0f5c"/><stop offset="0.889" stop-color="#ea0751"/><stop offset="0.944" stop-color="#e90249"/><stop offset="1.000" stop-color="#e90041"/></linearGradient>
<linearGradient id="r49" gradientUnits="userSpaceOnUse" x1="658" x2="792" y1="0" y2="0"><stop offset="0.000" stop-color="#0478c8"/><stop offset="0.059" stop-color="#0e76c7"/><stop offset="0.118" stop-color="#1f72c3"/><stop offset="0.176" stop-color="#366cc0"/><stop offset="0.235" stop-color="#636cbd"/><stop offset="0.294" stop-color="#9872bc"/><stop offset="0.353" stop-color="#c67bbe"/><stop offset="0.412" stop-color="#e37cbb"/><stop offset="0.471" stop-color="#eb6fb0"/><stop offset="0.529" stop-color="#e85ea7"/><stop offset="0.588" stop-color="#ec519b"/><stop offset="0.647" stop-color="#ee4290"/><stop offset="0.706" stop-color="#ec3183"/><stop offset="0.765" stop-color="#eb1c70"/><stop offset="0.824" stop-color="#ea0f63"/><stop offset="0.882" stop-color="#e90658"/><stop offset="0.941" stop-color="#e9014e"/><stop offset="1.000" stop-color="#e80047"/></linearGradient>
<linearGradient id="r50" gradientUnits="userSpaceOnUse" x1="660" x2="782" y1="0" y2="0"><stop offset="0.000" stop-color="#0872c3"/><stop offset="0.067" stop-color="#156fc1"/><stop offset="0.133" stop-color="#2769bd"/><stop offset="0.200" stop-color="#4664b9"/><stop offset="0.267" stop-color="#7664b7"/><stop offset="0.333" stop-color="#a867b6"/><stop offset="0.400" stop-color="#d069b5"/><stop offset="0.467" stop-color="#e461ae"/><stop offset="0.533" stop-color="#e84da0"/><stop offset="0.600" stop-color="#e93c94"/><stop offset="0.667" stop-color="#eb2f88"/><stop offset="0.733" stop-color="#ea237f"/><stop offset="0.800" stop-color="#ea1571"/><stop offset="0.867" stop-color="#e90863"/><stop offset="0.933" stop-color="#e80158"/><stop offset="1.000" stop-color="#e8004d"/></linearGradient>
<linearGradient id="r51" gradientUnits="userSpaceOnUse" x1="662" x2="773" y1="0" y2="0"><stop offset="0.000" stop-color="#0c6bbe"/><stop offset="0.071" stop-color="#1768bc"/><stop offset="0.143" stop-color="#2b63b8"/><stop offset="0.214" stop-color="#4d5db4"/><stop offset="0.286" stop-color="#7c5ab1"/><stop offset="0.357" stop-color="#ac59af"/><stop offset="0.429" stop-color="#d055ac"/><stop offset="0.500" stop-color="#e249a4"/><stop offset="0.571" stop-color="#e73797"/><stop offset="0.643" stop-color="#e8288b"/><stop offset="0.714" stop-color="#e91d80"/><stop offset="0.786" stop-color="#e91477"/><stop offset="0.857" stop-color="#e8096b"/><stop offset="0.929" stop-color="#e8015f"/><stop offset="1.000" stop-color="#e70055"/></linearGradient>
<linearGradient id="r52" gradientUnits="userSpaceOnUse" x1="663" x2="763" y1="0" y2="0"><stop offset="0.000" stop-color="#0e65ba"/><stop offset="0.083" stop-color="#1c61b7"/><stop offset="0.167" stop-color="#335bb2"/><stop offset="0.250" stop-color="#5e53ad"/><stop offset="0.333" stop-color="#8e4eaa"/><stop offset="0.417" stop-color="#ba49a8"/><stop offset="0.500" stop-color="#d93ea2"/><stop offset="0.583" stop-color="#e42f97"/><stop offset="0.667" stop-color="#e61e89"/><stop offset="0.750" stop-color="#e7137e"/><stop offset="0.833" stop-color="#e70b75"/><stop offset="0.917" stop-color="#e7036b"/><stop offset="1.000" stop-color="#e6005e"/></linearGradient>
<linearGradient id="r53" gradientUnits="userSpaceOnUse" x1="665" x2="753" y1="0" y2="0"><stop offset="0.000" stop-color="#135eb5"/><stop offset="0.091" stop-color="#215ab1"/><stop offset="0.182" stop-color="#3a52ab"/><stop offset="0.273" stop-color="#6349a6"/><stop offset="0.364" stop-color="#9542a4"/><stop offset="0.455" stop-color="#be3ba1"/><stop offset="0.545" stop-color="#d72f9c"/><stop offset="0.636" stop-color="#e12192"/><stop offset="0.727" stop-color="#e41385"/><stop offset="0.818" stop-color="#e50a7b"/><stop offset="0.909" stop-color="#e50371"/><stop offset="1.000" stop-color="#e50068"/></linearGradient>
<linearGradient id="r54" gradientUnits="userSpaceOnUse" x1="667" x2="743" y1="0" y2="0"><stop offset="0.000" stop-color="#1857b0"/><stop offset="0.100" stop-color="#2553ac"/><stop offset="0.200" stop-color="#3e49a5"/><stop offset="0.300" stop-color="#6140a0"/><stop offset="0.400" stop-color="#95389e"/><stop offset="0.500" stop-color="#bf2f9c"/><stop offset="0.600" stop-color="#d12597"/><stop offset="0.700" stop-color="#dc188e"/><stop offset="0.800" stop-color="#e00e84"/><stop offset="0.900" stop-color="#e10479"/><stop offset="1.000" stop-color="#e20070"/></linearGradient>
<linearGradient id="r55" gradientUnits="userSpaceOnUse" x1="669" x2="734" y1="0" y2="0"><stop offset="0.000" stop-color="#1d50aa"/><stop offset="0.125" stop-color="#2e49a5"/><stop offset="0.250" stop-color="#4a3d9d"/><stop offset="0.375" stop-color="#7a349a"/><stop offset="0.500" stop-color="#ab2b98"/><stop offset="0.625" stop-color="#c62094"/><stop offset="0.750" stop-color="#d4148d"/><stop offset="0.875" stop-color="#da0983"/><stop offset="1.000" stop-color="#de0077"/></linearGradient>
<linearGradient id="r56" gradientUnits="userSpaceOnUse" x1="672" x2="724" y1="0" y2="0"><stop offset="0.000" stop-color="#2548a4"/><stop offset="0.167" stop-color="#38409e"/><stop offset="0.333" stop-color="#623397"/><stop offset="0.500" stop-color="#952894"/><stop offset="0.667" stop-color="#b71d91"/><stop offset="0.833" stop-color="#ca118a"/><stop offset="1.000" stop-color="#d40480"/></linearGradient>
<linearGradient id="r57" gradientUnits="userSpaceOnUse" x1="674" x2="714" y1="0" y2="0"><stop offset="0.000" stop-color="#2d409f"/><stop offset="0.200" stop-color="#423899"/><stop offset="0.400" stop-color="#672d93"/><stop offset="0.600" stop-color="#902290"/><stop offset="0.800" stop-color="#af178c"/><stop offset="1.000" stop-color="#c20c87"/></linearGradient>
<linearGradient id="r58" gradientUnits="userSpaceOnUse" x1="677" x2="705" y1="0" y2="0"><stop offset="0.000" stop-color="#383899"/><stop offset="0.250" stop-color="#4d3094"/><stop offset="0.500" stop-color="#6b2790"/><stop offset="0.750" stop-color="#8b1d8d"/><stop offset="1.000" stop-color="#a41489"/></linearGradient>
<linearGradient id="r59" gradientUnits="userSpaceOnUse" x1="682" x2="695" y1="0" y2="0"><stop offset="0.000" stop-color="#4a2d93"/><stop offset="0.500" stop-color="#5f268f"/><stop offset="1.000" stop-color="#7b1d8b"/></linearGradient>
<radialGradient id="wg"><stop offset="0" stop-color="#fff" stop-opacity="0.95"/><stop offset="0.45" stop-color="#f0ffe0" stop-opacity="0.6"/><stop offset="1" stop-color="#fff" stop-opacity="0"/></radialGradient>
</defs>
<path d="M633.8,565.5 V826.6 M665.5,565.5 V826.6 M697.3,565.5 V826.6 M729.0,565.5 V826.6 M760.8,565.5 V826.6 M792.5,565.5 V826.6 M824.2,565.5 V826.6 M856.0,565.5 V826.6 M887.7,565.5 V826.6 M623.8,813.3 H887.7 M623.8,785.7 H887.7 M623.8,758.2 H887.7 M623.8,730.6 H887.7 M623.8,703.1 H887.7 M623.8,675.5 H887.7 M623.8,647.9 H887.7 M623.8,620.4 H887.7 M623.8,592.8 H887.7 " stroke="#4c4c4c" stroke-width="1" fill="none"/>
<rect x="623.8" y="565.5" width="263.9" height="261.1" fill="none" stroke="#4c4c4c" stroke-width="1"/>
<path d="M623.8,566.8 H887.7 M623.8,825.3 H887.7" stroke="#8a8a8a" stroke-width="2.6" stroke-dasharray="0.7 2.47" fill="none"/>
<path d="M625.1,565.5 V826.6 M886.4,565.5 V826.6" stroke="#8a8a8a" stroke-width="2.6" stroke-dasharray="0.7 2.06" fill="none"/>
<g clip-path="url(#hs)"><g filter="url(#vb)"><rect x="652" y="577" width="21" height="6" fill="url(#r0)"/><rect x="646" y="581" width="36" height="6" fill="url(#r1)"/><rect x="643" y="585" width="46" height="6" fill="url(#r2)"/><rect x="640" y="589" width="55" height="6" fill="url(#r3)"/><rect x="638" y="593" width="63" height="6" fill="url(#r4)"/><rect x="636" y="597" width="71" height="6" fill="url(#r5)"/><rect x="635" y="601" width="78" height="6" fill="url(#r6)"/><rect x="634" y="605" width="84" height="6" fill="url(#r7)"/><rect x="634" y="609" width="90" height="6" fill="url(#r8)"/><rect x="633" y="613" width="96" height="6" fill="url(#r9)"/><rect x="633" y="617" width="101" height="6" fill="url(#r10)"/><rect x="633" y="621" width="106" height="6" fill="url(#r11)"/><rect x="633" y="625" width="111" height="6" fill="url(#r12)"/><rect x="633" y="629" width="116" height="6" fill="url(#r13)"/><rect x="633" y="633" width="120" height="6" fill="url(#r14)"/><rect x="633" y="637" width="125" height="6" fill="url(#r15)"/><rect x="633" y="641" width="130" height="6" fill="url(#r16)"/><rect x="633" y="645" width="134" height="6" fill="url(#r17)"/><rect x="633" y="649" width="139" height="6" fill="url(#r18)"/><rect x="633" y="653" width="144" height="6" fill="url(#r19)"/><rect x="633" y="657" width="148" height="6" fill="url(#r20)"/><rect x="634" y="661" width="152" height="6" fill="url(#r21)"/><rect x="634" y="665" width="157" height="6" fill="url(#r22)"/><rect x="634" y="669" width="161" height="6" fill="url(#r23)"/><rect x="635" y="673" width="165" height="6" fill="url(#r24)"/><rect x="635" y="677" width="170" height="6" fill="url(#r25)"/><rect x="636" y="681" width="173" height="6" fill="url(#r26)"/><rect x="636" y="685" width="178" height="6" fill="url(#r27)"/><rect x="637" y="689" width="181" height="6" fill="url(#r28)"/><rect x="637" y="693" width="186" height="6" fill="url(#r29)"/><rect x="638" y="697" width="190" height="6" fill="url(#r30)"/><rect x="639" y="701" width="193" height="6" fill="url(#r31)"/><rect x="639" y="705" width="198" height="6" fill="url(#r32)"/><rect x="640" y="709" width="202" height="6" fill="url(#r33)"/><rect x="641" y="713" width="205" height="6" fill="url(#r34)"/><rect x="642" y="717" width="209" height="6" fill="url(#r35)"/><rect x="643" y="721" width="212" height="6" fill="url(#r36)"/><rect x="644" y="725" width="216" height="6" fill="url(#r37)"/><rect x="645" y="729" width="220" height="6" fill="url(#r38)"/><rect x="646" y="733" width="223" height="6" fill="url(#r39)"/><rect x="647" y="737" width="222" height="6" fill="url(#r40)"/><rect x="648" y="741" width="221" height="6" fill="url(#r41)"/><rect x="649" y="745" width="211" height="6" fill="url(#r42)"/><rect x="650" y="749" width="200" height="6" fill="url(#r43)"/><rect x="651" y="753" width="190" height="6" fill="url(#r44)"/><rect x="653" y="757" width="178" height="6" fill="url(#r45)"/><rect x="654" y="761" width="167" height="6" fill="url(#r46)"/><rect x="655" y="765" width="157" height="6" fill="url(#r47)"/><rect x="657" y="769" width="145" height="6" fill="url(#r48)"/><rect x="658" y="773" width="134" height="6" fill="url(#r49)"/><rect x="660" y="777" width="122" height="6" fill="url(#r50)"/><rect x="662" y="781" width="111" height="6" fill="url(#r51)"/><rect x="663" y="785" width="100" height="6" fill="url(#r52)"/><rect x="665" y="789" width="88" height="6" fill="url(#r53)"/><rect x="667" y="793" width="76" height="6" fill="url(#r54)"/><rect x="669" y="797" width="65" height="6" fill="url(#r55)"/><rect x="672" y="801" width="52" height="6" fill="url(#r56)"/><rect x="674" y="805" width="40" height="6" fill="url(#r57)"/><rect x="677" y="809" width="28" height="6" fill="url(#r58)"/><rect x="682" y="813" width="13" height="6" fill="url(#r59)"/></g></g>
<g clip-path="url(#hs)"><path d="M644.5,587.4 C647.8,590.7 657.5,600.2 664.0,607.5 C670.5,614.8 677.9,623.8 683.5,630.9 C689.1,638.1 693.5,644.1 697.8,650.4 C702.1,656.7 706.0,662.8 709.5,668.6 C713.0,674.5 715.6,679.4 718.6,685.5 C721.6,691.6 726.0,700.9 727.7,705.0 C729.4,709.1 728.8,709.2 729.0,710.0 M635.4,669.3 C639.1,670.7 650.6,674.8 657.5,677.7 C664.4,680.6 671.2,683.8 677.0,686.8 C682.9,689.8 687.8,692.9 692.6,695.9 C697.4,698.9 701.7,702.2 705.6,705.0 C709.5,707.9 713.3,710.8 716.0,713.0 C718.7,715.2 721.0,717.2 722.0,718.0" fill="none" stroke="#0c2c0c" stroke-opacity="0.9" stroke-width="1.35"/><path d="M748.9,636.7 C748.7,641.3 748.3,656.2 747.9,664.0 C747.4,671.8 747.2,677.8 746.3,683.5 C745.4,689.3 743.5,695.1 742.7,698.5 C741.8,701.9 741.3,703.1 741.0,704.0 M652.3,747.7 C656.4,746.2 668.6,741.7 677.0,739.2 C685.5,736.7 698.7,733.8 703.0,732.7 M664.0,776.9 C667.3,774.5 677.2,766.9 683.5,762.6 C689.8,758.3 698.7,752.9 701.7,750.9 M682.2,799.0 C683.5,796.4 687.0,788.4 690.0,783.4 C693.0,778.4 697.2,772.8 700.4,769.1 C703.7,765.4 708.0,762.6 709.5,761.3 M688.7,813.3 C689.6,810.5 691.5,802.3 693.9,796.4 C696.3,790.6 700.1,783.9 703.0,778.2 C705.9,772.5 710.0,764.7 711.5,762.0 M738.1,743.1 C738.5,746.4 740.1,754.8 740.7,762.6 C741.4,770.4 741.8,785.4 742.0,789.9 M738.1,743.1 L774.0,716.0 M776.9,662.7 C775.7,665.1 772.6,672.0 769.7,677.0 C766.8,682.0 761.0,690.0 759.3,692.6 M785.3,670.5 L771.0,688.7 M799.6,684.8 L787.9,691.3 M810.0,692.6 L793.1,699.1 M823.0,705.6 C818.7,706.3 804.6,708.0 797.0,709.5 C789.4,711.0 782.5,712.5 777.5,714.7 C772.5,716.9 768.8,721.2 767.1,722.5 M767.1,723.8 C773.8,724.0 792.7,723.6 807.4,725.1 C822.1,726.6 847.5,731.6 855.5,732.9 M758.0,732.9 C762.3,733.8 776.4,736.8 784.0,738.1 C791.6,739.4 794.8,737.9 803.5,740.7 C812.2,743.5 830.6,752.6 836.0,755.0 M764.0,759.0 L777.0,778.0 M745.0,700.4 C748.3,699.0 758.9,693.5 764.5,692.0 C770.1,690.4 774.9,690.3 778.8,691.3 C782.7,692.3 785.8,695.0 787.9,697.8 C790.0,700.6 790.6,706.5 791.2,708.2 M789.2,709.5 C791.6,709.5 800.3,708.0 803.5,709.5 C806.8,711.0 808.3,714.9 808.7,718.6 C809.1,722.3 808.1,727.7 806.1,731.6 C804.2,735.5 800.7,739.0 797.0,742.0 C793.3,745.0 790.2,746.1 784.0,749.8 C777.8,753.5 767.3,761.3 760.0,764.0 C752.7,766.7 743.3,765.7 740.0,766.0 M708.0,748.0 C711.3,745.0 721.7,735.3 728.0,730.0 C734.3,724.7 738.0,720.7 746.0,716.0 C754.0,711.3 768.3,705.2 776.0,702.0 C783.7,698.8 789.3,697.8 792.0,697.0" fill="none" stroke="#10300f" stroke-opacity="0.85" stroke-width="1"/></g>
<ellipse cx="746" cy="727" rx="46" ry="18.5" transform="rotate(-27 746 727)" fill="none" stroke="#222" stroke-opacity="0.8" stroke-width="0.8"/>
<circle cx="748.0" cy="715.0" r="1.1" fill="#111"/><circle cx="775.0" cy="702.4" r="1.1" fill="#111"/><circle cx="735.6" cy="725.6" r="1.1" fill="#111"/>
<circle cx="671.2" cy="601.7" r="4.6" fill="url(#wg)"/><circle cx="697.2" cy="603.9" r="4.6" fill="url(#wg)"/><circle cx="654.3" cy="616.6" r="4.6" fill="url(#wg)"/><circle cx="647.4" cy="637.4" r="4.6" fill="url(#wg)"/><circle cx="644.5" cy="658.9" r="4.6" fill="url(#wg)"/><circle cx="643.9" cy="683.6" r="4.6" fill="url(#wg)"/><circle cx="789.5" cy="691.5" r="4.6" fill="url(#wg)"/>
<path d="M669.9,802.3 H690.3 M680.3,791.9 V812.7" stroke="#0a0a40" stroke-width="1.3" fill="none"/>
<text x="598.7" y="550" class="c" style="font-size:13.4px">CIE1931  EVERFINE</text>
<text x="737.5" y="563.7" class="c">x = 0.1514 y = 0.0410</text>
<text x="776.8" y="586" class="c">CCT &gt;= 100000K</text>
<text x="631.3" y="562.6" class="ta">.0</text><text x="631.3" y="834.0" class="ta">.0</text><text x="663.0" y="562.6" class="ta">.1</text><text x="663.0" y="834.0" class="ta">.1</text><text x="694.8" y="562.6" class="ta">.2</text><text x="694.8" y="834.0" class="ta">.2</text><text x="726.5" y="562.6" class="ta">.3</text><text x="726.5" y="834.0" class="ta">.3</text><text x="758.3" y="562.6" class="ta">.4</text><text x="758.3" y="834.0" class="ta">.4</text><text x="790.0" y="562.6" class="ta">.5</text><text x="790.0" y="834.0" class="ta">.5</text><text x="821.7" y="562.6" class="ta">.6</text><text x="821.7" y="834.0" class="ta">.6</text><text x="853.5" y="562.6" class="ta">.7</text><text x="853.5" y="834.0" class="ta">.7</text><text x="885.2" y="562.6" class="ta">.8</text><text x="885.2" y="834.0" class="ta">.8</text><text x="615.5" y="814.9" class="ta">.0</text><text x="890.5" y="814.9" class="ta">.0</text><text x="615.5" y="787.3" class="ta">.1</text><text x="890.5" y="787.3" class="ta">.1</text><text x="615.5" y="759.8" class="ta">.2</text><text x="890.5" y="759.8" class="ta">.2</text><text x="615.5" y="732.2" class="ta">.3</text><text x="890.5" y="732.2" class="ta">.3</text><text x="615.5" y="704.7" class="ta">.4</text><text x="890.5" y="704.7" class="ta">.4</text><text x="615.5" y="677.1" class="ta">.5</text><text x="890.5" y="677.1" class="ta">.5</text><text x="615.5" y="649.5" class="ta">.6</text><text x="890.5" y="649.5" class="ta">.6</text><text x="615.5" y="622.0" class="ta">.7</text><text x="890.5" y="622.0" class="ta">.7</text><text x="615.5" y="594.4" class="ta">.8</text><text x="890.5" y="594.4" class="ta">.8</text><text x="615.5" y="566.9" class="ta">.9</text><text x="890.5" y="566.9" class="ta">.9</text><text x="647.5" y="562.6" class="ta">x</text><text x="615.5" y="580.5" class="ta">y</text><text x="869.5" y="834.0" class="ta">x</text><text x="890.5" y="801.0" class="ta">y</text>
<text x="654.0" y="578.5" class="tw">52</text><text x="683.0" y="588.0" class="tw">53</text><text x="708.0" y="603.5" class="tw">54</text><text x="731.0" y="620.5" class="tw">55</text><text x="756.0" y="638.5" class="tw">56</text><text x="777.0" y="657.5" class="tw">57</text><text x="799.0" y="676.0" class="tw">58</text><text x="816.5" y="694.5" class="tw">59</text><text x="834.0" y="709.5" class="tw">60</text><text x="849.0" y="724.0" class="tw">61</text><text x="859.0" y="733.5" class="tw">62</text><text x="627.0" y="607.0" class="tw">51</text><text x="626.0" y="668.5" class="tw">50</text><text x="639.0" y="737.0" class="tw">49</text><text x="653.5" y="782.0" class="tw">48</text><text x="664.0" y="803.5" class="tw">47</text><text x="682.0" y="815.0" class="tw">46</text><text x="686.0" y="819.0" class="tw">45</text><text x="696.0" y="824.0" class="tw">38</text>
<text x="679.0" y="669.5" class="t">Green</text><text x="718.0" y="660.0" class="t">Yellowish</text><text x="718.0" y="664.0" class="t">Green</text><text x="755.0" y="665.5" class="t">Yellow</text><text x="755.0" y="669.5" class="t">Green</text><text x="795.0" y="664.0" class="t">Greenish</text><text x="795.0" y="669.0" class="t">Yellow</text><text x="781.0" y="684.0" class="t">Yellow</text><text x="666.0" y="706.0" class="t">Bluish</text><text x="666.0" y="710.0" class="t">Green</text><text x="672.0" y="749.5" class="t">Greenish</text><text x="672.0" y="753.5" class="t">Blue</text><text x="683.0" y="773.0" class="t">Blue</text><text x="644.0" y="807.5" class="t">Purplish</text><text x="644.0" y="812.5" class="t">Blue</text><text x="720.0" y="772.0" class="t">Purple</text><text x="698.0" y="788.0" class="t">Purple</text><text x="748.0" y="770.0" class="t">Reddish</text><text x="748.0" y="774.0" class="t">Purple</text><text x="790.0" y="758.0" class="t">Purplish</text><text x="790.0" y="762.0" class="t">Red</text><text x="816.0" y="732.0" class="t">Red</text><text x="786.0" y="730.0" class="t">Pink</text><text x="752.0" y="743.5" class="t">Purplish</text><text x="752.0" y="747.5" class="t">Pink</text><text x="783.0" y="715.5" class="t">Yellowish</text><text x="783.0" y="719.5" class="t">Pink</text><text x="797.0" y="697.0" class="t">Orange</text><text x="817.0" y="715.0" class="t">Reddish</text><text x="817.0" y="719.0" class="t">Orange</text><text x="733.0" y="710.0" class="t">EQUAL</text><text x="732.0" y="714.0" class="t">ENERGY</text><text x="745.0" y="729.5" class="t">DAYLIGHT</text><text x="822.0" y="765.0" class="t">WAVELENGTH</text><text x="826.0" y="770.0" class="t">MICRONS</text><text x="755.0" y="801.5" class="t">COLOR TEMPERATURE IN KELVINS</text>
<text x="868.5" y="631.8" class="ts" text-anchor="end">Source A x=0.4476</text><text x="868.5" y="636.0" class="ts" text-anchor="end">y=0.4074</text><text x="868.5" y="640.2" class="ts" text-anchor="end">Source B x=0.3485</text><text x="868.5" y="644.3" class="ts" text-anchor="end">y=0.3517</text><text x="868.5" y="648.5" class="ts" text-anchor="end">Source C x=0.3101</text><text x="868.5" y="652.7" class="ts" text-anchor="end">y=0.3163</text><text x="868.5" y="656.9" class="ts" text-anchor="end">Source D x=0.3127</text><text x="868.5" y="661.1" class="ts" text-anchor="end">y=0.3291</text><text x="868.5" y="665.2" class="ts" text-anchor="end">Source E x=0.3333</text><text x="868.5" y="669.4" class="ts" text-anchor="end">y=0.3333</text>
<text transform="translate(710.5,827) rotate(-90)" class="t">24000</text><path d="M709,812 v5" stroke="#333" stroke-width="0.6"/><text transform="translate(716.5,827) rotate(-90)" class="t">10000</text><path d="M715,812 v5" stroke="#333" stroke-width="0.6"/><text transform="translate(724.5,827) rotate(-90)" class="t">6500</text><path d="M723,812 v5" stroke="#333" stroke-width="0.6"/><text transform="translate(734.5,827) rotate(-90)" class="t">4800</text><path d="M733,812 v5" stroke="#333" stroke-width="0.6"/><text transform="translate(745.5,827) rotate(-90)" class="t">3500</text><path d="M744,812 v5" stroke="#333" stroke-width="0.6"/><text transform="translate(758.5,827) rotate(-90)" class="t">2854</text><path d="M757,812 v5" stroke="#333" stroke-width="0.6"/><text transform="translate(770.5,827) rotate(-90)" class="t">2360</text><path d="M769,812 v5" stroke="#333" stroke-width="0.6"/><text transform="translate(782.5,827) rotate(-90)" class="t">1900</text><path d="M781,812 v5" stroke="#333" stroke-width="0.6"/><text transform="translate(795.5,827) rotate(-90)" class="t">1500</text><path d="M794,812 v5" stroke="#333" stroke-width="0.6"/><text transform="translate(812.5,827) rotate(-90)" class="t">1000</text><path d="M811,812 v5" stroke="#333" stroke-width="0.6"/>
<path d="M845,766 H863 Q869,765 869,759 V745" fill="none" stroke="#333" stroke-width="0.6"/><path d="M867.6,746.5 L869,742 L870.4,746.5 Z" fill="#333"/>
<path d="M806,664 Q795,661 785,671" fill="none" stroke="#333" stroke-width="0.6"/>
<path d="M598.7,537.2 H919.6" stroke="#111" stroke-width="1.1" fill="none"/>
<path d="M919.5,537 V839.5" stroke="#555" stroke-width="1" fill="none"/>
<path d="M598.7,839.6 H919.6" stroke="#222" stroke-width="1.3" fill="none"/>
<path d="M599.1,536.4 V840.3" stroke="#111" stroke-width="1.6" fill="none"/>
<path d="M600.6,555.4 V565.3" stroke="#222" stroke-width="1.8" fill="none"/><path d="M600,565.2 H610" stroke="#888" stroke-width="0.9" fill="none"/>
</svg></body></html>
